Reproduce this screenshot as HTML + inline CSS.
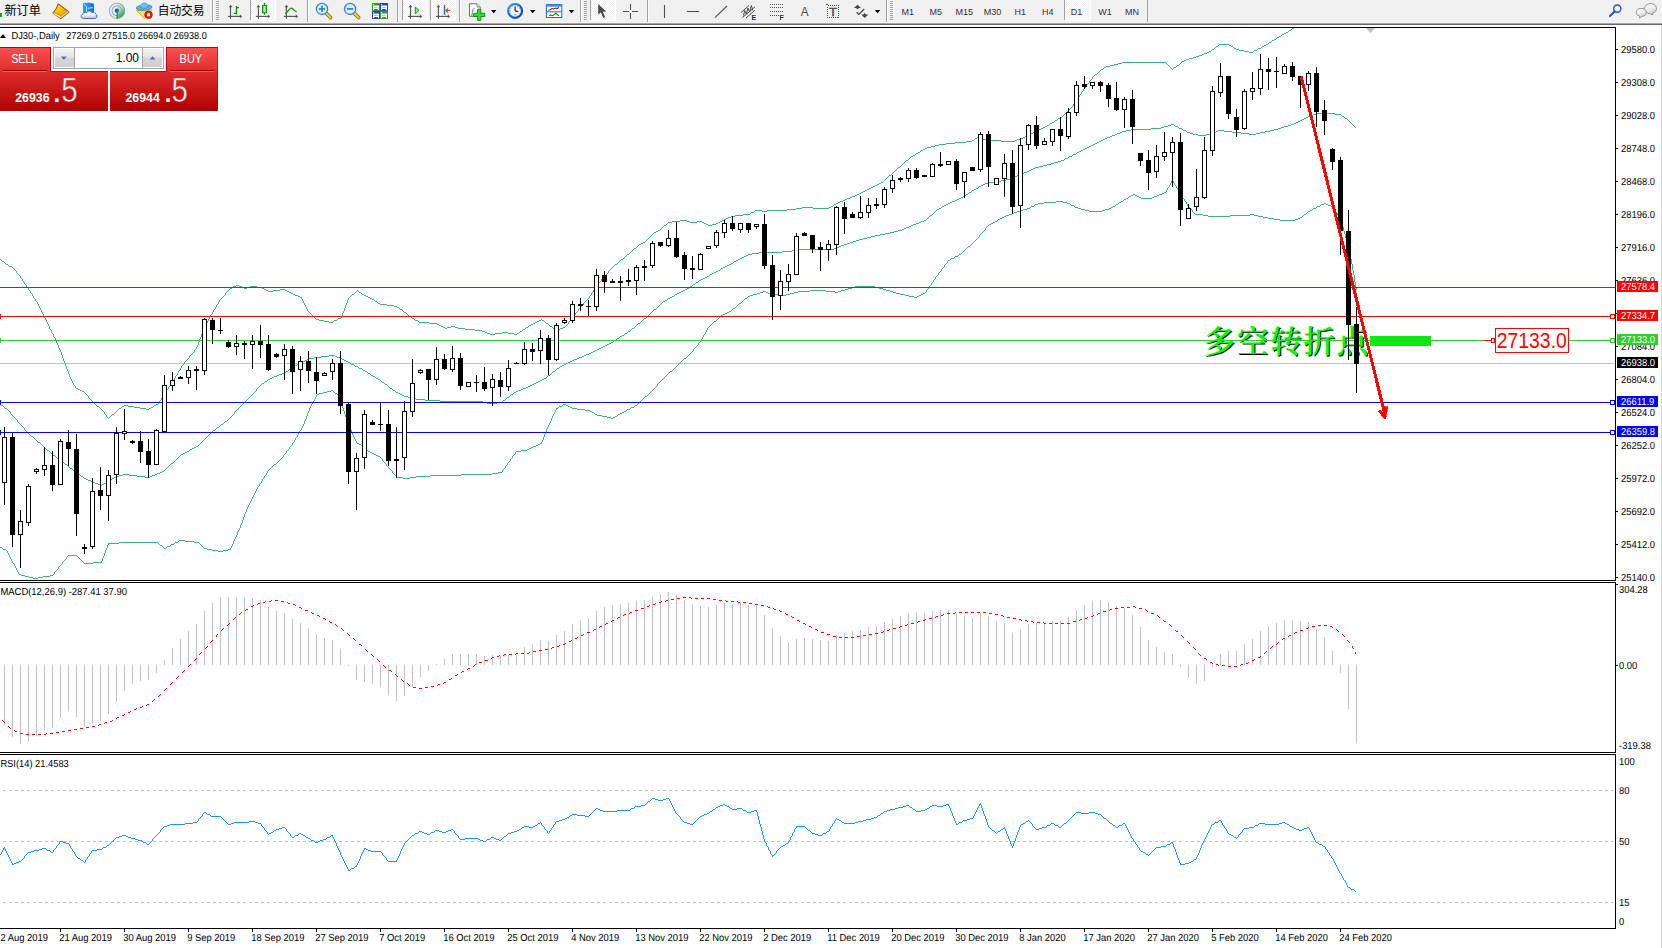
<!DOCTYPE html>
<html><head><meta charset="utf-8"><title>DJ30-,Daily</title>
<style>html,body{margin:0;padding:0;background:#fff;}body{width:1662px;height:948px;overflow:hidden;position:relative;}svg{position:absolute;left:0;top:0;display:block}text{font-family:"Liberation Sans", sans-serif;white-space:pre}.c text{font-size:10.2px;fill:#000;text-rendering:geometricPrecision}</style>
</head><body>
<svg width="1662" height="948" viewBox="0 0 1662 948">
<rect width="1662" height="948" fill="#fff"/>
<g class="c" shape-rendering="crispEdges">
<defs><clipPath id="cm"><rect x="0" y="28" width="1615" height="552"/></clipPath><clipPath id="cd"><rect x="0" y="583" width="1615" height="169"/></clipPath><clipPath id="cr"><rect x="0" y="755" width="1615" height="173"/></clipPath></defs>
<g clip-path="url(#cm)">
<rect x="0" y="363" width="1615" height="1" fill="#c0c0c0"/>
<rect x="1370" y="336" width="61" height="10" fill="#00f000" shape-rendering="crispEdges"/>
<g shape-rendering="auto"><text x="1204.5" y="354" style="font-family:'Liberation Serif','Noto Serif CJK SC',serif;font-size:32px;font-weight:600;fill:#000" textLength="165" lengthAdjust="spacing">多空转折点</text><text x="1203.5" y="353" style="font-family:'Liberation Serif','Noto Serif CJK SC',serif;font-size:32px;font-weight:600;fill:#00ff00" textLength="165" lengthAdjust="spacing">多空转折点</text></g>
<path d="M1292 28.5h2M1291 29.5h1M1289 30.5h2M1288 31.5h1M1286 32.5h2M1284 33.5h2M1282 34.5h2M1281 35.5h1M1279 36.5h2M1277 37.5h2M1276 38.5h1M1274 39.5h2M1272 40.5h2M1271 41.5h1M1269 42.5h2M1268 43.5h1M1219 44.5h10M1266 44.5h2M1218 45.5h1M1229 45.5h2M1264 45.5h2M1216 46.5h2M1231 46.5h2M1262 46.5h2M1215 47.5h1M1233 47.5h1M1261 47.5h1M1214 48.5h1M1234 48.5h2M1258 48.5h3M1212 49.5h2M1236 49.5h3M1257 49.5h1M1211 50.5h1M1239 50.5h5M1254 50.5h3M1209 51.5h2M1244 51.5h5M1253 51.5h1M1207 52.5h2M1249 52.5h4M1204 53.5h3M1202 54.5h2M1199 55.5h3M1196 56.5h3M1193 57.5h3M1189 58.5h4M1186 59.5h3M1184 60.5h2M1182 61.5h2M1122 62.5h44M1181 62.5h1M1118 63.5h4M1166 63.5h1M1180 63.5h1M1114 64.5h4M1167 64.5h1M1179 64.5h1M1110 65.5h4M1168 65.5h1M1177 65.5h2M1106 66.5h4M1169 66.5h1M1176 66.5h1M1104 67.5h2M1170 67.5h1M1174 67.5h2M1103 68.5h1M1171 68.5h1M1173 68.5h1M1101 69.5h2M1172 69.5h1M1100 70.5h1M1099 71.5h1M1098 72.5h1M1097 73.5h1M1095 74.5h2M1094 75.5h1M1093 76.5h1M1092 77.5h1M1092 78.5h1M1091 79.5h1M1090 80.5h1M1089 81.5h1M1089 82.5h1M1088 83.5h1M1087 84.5h1M1086 85.5h1M1086 86.5h1M1085 87.5h1M1084 88.5h1M1083 89.5h1M1083 90.5h1M1082 91.5h1M1081 92.5h1M1081 93.5h1M1080 94.5h1M1079 95.5h1M1079 96.5h1M1078 97.5h1M1077 98.5h1M1077 99.5h1M1076 100.5h1M1075 101.5h1M1075 102.5h1M1074 103.5h1M1073 104.5h1M1073 105.5h1M1072 106.5h1M1071 107.5h1M1070 108.5h1M1069 109.5h1M1068 110.5h1M1067 111.5h1M1066 112.5h1M1065 113.5h1M1064 114.5h1M1063 115.5h1M1062 116.5h1M1060 117.5h2M1058 118.5h2M1057 119.5h1M1055 120.5h2M1054 121.5h1M1052 122.5h2M1050 123.5h2M1049 124.5h1M1047 125.5h2M1045 126.5h2M1043 127.5h2M1041 128.5h2M1039 129.5h2M1037 130.5h2M1035 131.5h2M1033 132.5h2M1031 133.5h2M1029 134.5h2M1027 135.5h2M1025 136.5h2M977 137.5h2M1023 137.5h2M975 138.5h2M979 138.5h4M1020 138.5h3M974 139.5h1M983 139.5h4M1017 139.5h3M972 140.5h2M987 140.5h14M1015 140.5h2M966 141.5h6M1001 141.5h14M955 142.5h11M946 143.5h9M939 144.5h7M935 145.5h4M931 146.5h4M927 147.5h4M925 148.5h2M923 149.5h2M921 150.5h2M920 151.5h1M918 152.5h2M916 153.5h2M915 154.5h1M913 155.5h2M911 156.5h2M910 157.5h1M909 158.5h1M908 159.5h1M906 160.5h2M905 161.5h1M904 162.5h1M903 163.5h1M902 164.5h1M901 165.5h1M900 166.5h1M898 167.5h2M897 168.5h1M896 169.5h1M895 170.5h1M894 171.5h1M893 172.5h1M892 173.5h1M891 174.5h1M889 175.5h2M888 176.5h1M887 177.5h1M886 178.5h1M885 179.5h1M884 180.5h1M883 181.5h1M881 182.5h2M879 183.5h2M877 184.5h2M875 185.5h2M873 186.5h2M871 187.5h2M869 188.5h2M867 189.5h2M865 190.5h2M863 191.5h2M861 192.5h2M859 193.5h2M857 194.5h2M855 195.5h2M852 196.5h3M850 197.5h2M847 198.5h3M845 199.5h2M843 200.5h2M840 201.5h3M838 202.5h2M836 203.5h2M834 204.5h2M833 205.5h1M831 206.5h2M802 207.5h11M829 207.5h2M796 208.5h6M813 208.5h16M787 209.5h9M755 210.5h7M767 210.5h20M754 211.5h1M762 211.5h5M751 212.5h3M750 213.5h1M743 214.5h7M735 215.5h8M731 216.5h4M728 217.5h3M726 218.5h2M724 219.5h2M680 220.5h7M722 220.5h2M672 221.5h8M687 221.5h3M697 221.5h5M720 221.5h2M668 222.5h4M690 222.5h7M702 222.5h2M718 222.5h2M667 223.5h1M704 223.5h2M716 223.5h2M666 224.5h1M706 224.5h2M712 224.5h4M664 225.5h2M708 225.5h4M663 226.5h1M662 227.5h1M661 228.5h1M660 229.5h1M658 230.5h2M656 231.5h2M654 232.5h2M653 233.5h1M652 234.5h1M651 235.5h1M650 236.5h1M649 237.5h1M648 238.5h1M647 239.5h1M646 240.5h1M645 241.5h1M643 242.5h2M641 243.5h2M639 244.5h2M638 245.5h1M637 246.5h1M636 247.5h1M634 248.5h2M633 249.5h1M632 250.5h1M631 251.5h1M630 252.5h1M629 253.5h1M627 254.5h2M626 255.5h1M625 256.5h1M624 257.5h1M623 258.5h1M0 259.5h1M621 259.5h2M1 260.5h1M620 260.5h1M2 261.5h2M619 261.5h1M4 262.5h1M618 262.5h1M5 263.5h1M617 263.5h1M6 264.5h2M615 264.5h2M8 265.5h1M614 265.5h1M9 266.5h3M613 266.5h1M12 267.5h1M612 267.5h1M13 268.5h1M611 268.5h1M14 269.5h1M610 269.5h1M15 270.5h1M609 270.5h1M16 271.5h1M608 271.5h1M16 272.5h1M608 272.5h1M17 273.5h1M607 273.5h1M18 274.5h1M606 274.5h1M19 275.5h1M605 275.5h1M20 276.5h1M604 276.5h1M20 277.5h1M603 277.5h1M21 278.5h1M602 278.5h1M22 279.5h1M601 279.5h1M22 280.5h1M601 280.5h1M23 281.5h1M600 281.5h1M24 282.5h1M599 282.5h1M24 283.5h1M598 283.5h1M25 284.5h1M598 284.5h1M26 285.5h1M236 285.5h3M597 285.5h1M26 286.5h1M233 286.5h3M239 286.5h3M250 286.5h7M596 286.5h1M27 287.5h1M232 287.5h1M242 287.5h2M247 287.5h3M257 287.5h5M595 287.5h1M28 288.5h1M230 288.5h2M244 288.5h3M262 288.5h2M595 288.5h1M28 289.5h1M229 289.5h1M264 289.5h2M280 289.5h5M594 289.5h1M29 290.5h1M228 290.5h1M266 290.5h2M273 290.5h7M285 290.5h2M357 290.5h1M593 290.5h1M30 291.5h1M227 291.5h1M268 291.5h5M287 291.5h2M356 291.5h1M358 291.5h1M593 291.5h1M30 292.5h1M226 292.5h1M289 292.5h2M355 292.5h1M359 292.5h2M592 292.5h1M31 293.5h1M225 293.5h1M291 293.5h2M354 293.5h1M361 293.5h1M591 293.5h1M32 294.5h1M225 294.5h1M293 294.5h2M352 294.5h2M362 294.5h2M591 294.5h1M32 295.5h1M224 295.5h1M295 295.5h3M351 295.5h1M364 295.5h2M590 295.5h1M33 296.5h1M223 296.5h1M298 296.5h2M350 296.5h1M366 296.5h2M589 296.5h1M33 297.5h1M222 297.5h1M300 297.5h2M349 297.5h1M368 297.5h2M589 297.5h1M34 298.5h1M221 298.5h1M301 298.5h1M348 298.5h1M370 298.5h2M588 298.5h1M35 299.5h1M220 299.5h1M302 299.5h1M348 299.5h1M372 299.5h2M587 299.5h1M35 300.5h1M219 300.5h1M302 300.5h1M347 300.5h1M374 300.5h1M586 300.5h1M36 301.5h1M219 301.5h1M303 301.5h1M347 301.5h1M375 301.5h2M585 301.5h1M37 302.5h1M218 302.5h1M303 302.5h1M347 302.5h1M377 302.5h1M584 302.5h1M37 303.5h1M218 303.5h1M304 303.5h1M346 303.5h1M378 303.5h2M583 303.5h1M38 304.5h1M217 304.5h1M304 304.5h1M346 304.5h1M380 304.5h7M583 304.5h1M38 305.5h1M216 305.5h1M305 305.5h1M345 305.5h1M387 305.5h7M582 305.5h1M39 306.5h1M216 306.5h1M305 306.5h1M345 306.5h1M394 306.5h3M581 306.5h1M39 307.5h1M215 307.5h1M306 307.5h1M345 307.5h1M397 307.5h2M580 307.5h1M40 308.5h1M215 308.5h1M306 308.5h1M344 308.5h1M399 308.5h1M579 308.5h1M40 309.5h1M214 309.5h1M307 309.5h1M344 309.5h1M400 309.5h2M578 309.5h1M41 310.5h1M213 310.5h1M307 310.5h1M344 310.5h1M402 310.5h1M578 310.5h1M41 311.5h1M213 311.5h1M308 311.5h1M343 311.5h1M403 311.5h1M577 311.5h1M42 312.5h1M212 312.5h1M309 312.5h1M343 312.5h1M404 312.5h2M576 312.5h1M42 313.5h1M212 313.5h1M310 313.5h1M342 313.5h1M406 313.5h1M575 313.5h1M43 314.5h1M211 314.5h1M311 314.5h1M342 314.5h1M407 314.5h1M575 314.5h1M43 315.5h1M210 315.5h1M312 315.5h1M342 315.5h1M408 315.5h1M574 315.5h1M44 316.5h1M210 316.5h1M313 316.5h1M341 316.5h1M409 316.5h2M573 316.5h1M44 317.5h1M209 317.5h1M314 317.5h1M341 317.5h1M411 317.5h1M572 317.5h1M45 318.5h1M209 318.5h1M315 318.5h1M338 318.5h3M412 318.5h2M572 318.5h1M45 319.5h1M208 319.5h1M316 319.5h3M337 319.5h1M414 319.5h1M541 319.5h1M571 319.5h1M46 320.5h1M208 320.5h1M319 320.5h5M334 320.5h3M415 320.5h3M539 320.5h2M542 320.5h2M570 320.5h1M46 321.5h1M207 321.5h1M324 321.5h5M333 321.5h1M418 321.5h1M537 321.5h2M544 321.5h1M569 321.5h1M47 322.5h1M207 322.5h1M329 322.5h4M419 322.5h10M535 322.5h2M545 322.5h1M568 322.5h1M47 323.5h1M206 323.5h1M429 323.5h8M533 323.5h2M546 323.5h2M568 323.5h1M48 324.5h1M206 324.5h1M437 324.5h2M531 324.5h2M548 324.5h1M567 324.5h1M48 325.5h1M205 325.5h1M439 325.5h2M529 325.5h2M549 325.5h1M566 325.5h1M49 326.5h1M205 326.5h1M441 326.5h2M451 326.5h4M528 326.5h1M550 326.5h2M565 326.5h1M49 327.5h1M204 327.5h1M443 327.5h2M447 327.5h4M455 327.5h3M526 327.5h2M552 327.5h1M563 327.5h2M49 328.5h1M204 328.5h1M445 328.5h2M458 328.5h7M525 328.5h1M553 328.5h2M560 328.5h3M50 329.5h1M203 329.5h1M465 329.5h10M523 329.5h2M555 329.5h1M558 329.5h2M51 330.5h1M203 330.5h1M475 330.5h7M522 330.5h1M556 330.5h2M51 331.5h1M202 331.5h1M482 331.5h3M520 331.5h2M51 332.5h1M202 332.5h1M485 332.5h2M502 332.5h6M519 332.5h1M52 333.5h1M202 333.5h1M487 333.5h3M495 333.5h7M508 333.5h6M517 333.5h2M53 334.5h1M201 334.5h1M490 334.5h5M514 334.5h3M53 335.5h1M201 335.5h1M53 336.5h1M201 336.5h1M54 337.5h1M200 337.5h1M55 338.5h1M200 338.5h1M55 339.5h1M199 339.5h1M55 340.5h1M199 340.5h1M56 341.5h1M199 341.5h1M56 342.5h1M198 342.5h1M57 343.5h1M198 343.5h1M57 344.5h1M198 344.5h1M58 345.5h1M197 345.5h1M58 346.5h1M197 346.5h1M58 347.5h1M196 347.5h1M59 348.5h1M196 348.5h1M59 349.5h1M195 349.5h1M60 350.5h1M194 350.5h1M60 351.5h1M194 351.5h1M61 352.5h1M193 352.5h1M61 353.5h1M192 353.5h1M61 354.5h1M191 354.5h1M62 355.5h1M190 355.5h1M62 356.5h1M189 356.5h1M62 357.5h1M189 357.5h1M63 358.5h1M188 358.5h1M63 359.5h1M187 359.5h1M63 360.5h1M186 360.5h1M64 361.5h1M185 361.5h1M64 362.5h1M184 362.5h1M65 363.5h1M184 363.5h1M65 364.5h1M183 364.5h1M65 365.5h1M182 365.5h1M66 366.5h1M181 366.5h1M66 367.5h1M181 367.5h1M66 368.5h1M180 368.5h1M67 369.5h1M180 369.5h1M67 370.5h1M179 370.5h1M68 371.5h1M178 371.5h1M68 372.5h1M178 372.5h1M68 373.5h1M177 373.5h1M69 374.5h1M177 374.5h1M69 375.5h1M176 375.5h1M69 376.5h1M175 376.5h1M70 377.5h1M175 377.5h1M70 378.5h1M174 378.5h1M71 379.5h1M174 379.5h1M71 380.5h1M173 380.5h1M72 381.5h1M172 381.5h1M72 382.5h1M172 382.5h1M73 383.5h1M171 383.5h1M73 384.5h1M170 384.5h1M74 385.5h1M170 385.5h1M75 386.5h1M169 386.5h1M75 387.5h1M168 387.5h1M76 388.5h2M168 388.5h1M78 389.5h2M167 389.5h1M80 390.5h2M166 390.5h1M82 391.5h2M166 391.5h1M84 392.5h1M165 392.5h1M85 393.5h1M164 393.5h1M86 394.5h1M164 394.5h1M87 395.5h1M163 395.5h1M88 396.5h1M162 396.5h1M88 397.5h1M162 397.5h1M89 398.5h1M161 398.5h1M90 399.5h1M161 399.5h1M91 400.5h1M160 400.5h1M92 401.5h1M159 401.5h1M93 402.5h1M159 402.5h1M94 403.5h1M158 403.5h1M95 404.5h1M156 404.5h2M96 405.5h1M124 405.5h4M154 405.5h2M97 406.5h2M122 406.5h2M128 406.5h6M153 406.5h1M99 407.5h1M121 407.5h1M134 407.5h6M151 407.5h2M100 408.5h1M119 408.5h2M140 408.5h6M149 408.5h2M101 409.5h1M118 409.5h1M146 409.5h3M102 410.5h1M117 410.5h1M103 411.5h1M116 411.5h1M104 412.5h1M115 412.5h1M104 413.5h1M114 413.5h1M105 414.5h1M112 414.5h2M106 415.5h1M111 415.5h1M106 416.5h1M110 416.5h1M107 417.5h1M109 417.5h1M108 418.5h1" stroke="#3cb371" stroke-width="1" fill="none"/>
<path d="M1317 113.5h18M1313 114.5h4M1335 114.5h6M1310 115.5h3M1341 115.5h1M1308 116.5h2M1342 116.5h2M1306 117.5h2M1344 117.5h1M1304 118.5h2M1345 118.5h2M1302 119.5h2M1347 119.5h1M1300 120.5h2M1348 120.5h1M1298 121.5h2M1349 121.5h1M1296 122.5h2M1350 122.5h1M1294 123.5h2M1351 123.5h1M1171 124.5h3M1291 124.5h3M1352 124.5h1M1168 125.5h3M1174 125.5h1M1288 125.5h3M1353 125.5h1M1164 126.5h4M1175 126.5h3M1284 126.5h4M1354 126.5h1M1161 127.5h3M1178 127.5h1M1281 127.5h3M1355 127.5h1M1151 128.5h10M1179 128.5h3M1278 128.5h3M1131 129.5h20M1182 129.5h1M1274 129.5h4M1126 130.5h5M1183 130.5h3M1218 130.5h6M1270 130.5h4M1122 131.5h4M1186 131.5h1M1216 131.5h2M1224 131.5h8M1265 131.5h5M1120 132.5h2M1187 132.5h3M1214 132.5h2M1232 132.5h9M1260 132.5h5M1117 133.5h3M1190 133.5h3M1212 133.5h2M1241 133.5h8M1256 133.5h4M1115 134.5h2M1193 134.5h5M1206 134.5h6M1249 134.5h7M1112 135.5h3M1198 135.5h8M1110 136.5h2M1107 137.5h3M1105 138.5h2M1103 139.5h2M1101 140.5h2M1099 141.5h2M1097 142.5h2M1095 143.5h2M1093 144.5h2M1091 145.5h2M1089 146.5h2M1087 147.5h2M1085 148.5h2M1083 149.5h2M1081 150.5h2M1079 151.5h2M1077 152.5h2M1076 153.5h1M1073 154.5h3M1072 155.5h1M1069 156.5h3M1068 157.5h1M1065 158.5h3M1064 159.5h1M1061 160.5h3M1058 161.5h3M1054 162.5h4M1051 163.5h3M1047 164.5h4M1043 165.5h4M1039 166.5h4M1035 167.5h4M1033 168.5h2M1031 169.5h2M1029 170.5h2M1027 171.5h2M1024 172.5h3M1022 173.5h2M1020 174.5h2M1017 175.5h3M1015 176.5h2M1013 177.5h2M1011 178.5h2M1006 179.5h5M1001 180.5h5M994 181.5h7M989 182.5h5M985 183.5h4M983 184.5h2M981 185.5h2M979 186.5h2M978 187.5h1M976 188.5h2M974 189.5h2M972 190.5h2M971 191.5h1M969 192.5h2M968 193.5h1M966 194.5h2M964 195.5h2M963 196.5h1M961 197.5h2M959 198.5h2M957 199.5h2M955 200.5h2M952 201.5h3M950 202.5h2M948 203.5h2M946 204.5h2M944 205.5h2M942 206.5h2M941 207.5h1M939 208.5h2M937 209.5h2M936 210.5h1M935 211.5h1M934 212.5h1M933 213.5h1M932 214.5h1M930 215.5h2M929 216.5h1M928 217.5h1M927 218.5h1M926 219.5h1M924 220.5h2M921 221.5h3M919 222.5h2M916 223.5h3M913 224.5h3M911 225.5h2M909 226.5h2M906 227.5h3M904 228.5h2M902 229.5h2M898 230.5h4M894 231.5h4M890 232.5h4M885 233.5h5M880 234.5h5M875 235.5h5M871 236.5h4M867 237.5h4M863 238.5h4M859 239.5h4M856 240.5h3M853 241.5h3M850 242.5h3M847 243.5h3M844 244.5h3M841 245.5h3M839 246.5h2M836 247.5h3M834 248.5h2M799 249.5h35M792 250.5h7M782 251.5h10M759 252.5h23M752 253.5h7M748 254.5h4M746 255.5h2M744 256.5h2M742 257.5h2M740 258.5h2M738 259.5h2M736 260.5h2M734 261.5h2M733 262.5h1M731 263.5h2M729 264.5h2M727 265.5h2M725 266.5h2M723 267.5h2M721 268.5h2M720 269.5h1M718 270.5h2M716 271.5h2M714 272.5h2M712 273.5h2M710 274.5h2M709 275.5h1M707 276.5h2M705 277.5h2M703 278.5h2M701 279.5h2M699 280.5h2M698 281.5h1M696 282.5h2M695 283.5h1M693 284.5h2M692 285.5h1M690 286.5h2M689 287.5h1M687 288.5h2M685 289.5h2M683 290.5h2M681 291.5h2M679 292.5h2M677 293.5h2M675 294.5h2M674 295.5h1M672 296.5h2M670 297.5h2M668 298.5h2M667 299.5h1M665 300.5h2M663 301.5h2M662 302.5h1M661 303.5h1M660 304.5h1M659 305.5h1M658 306.5h1M657 307.5h1M656 308.5h1M654 309.5h2M653 310.5h1M652 311.5h1M651 312.5h1M650 313.5h1M649 314.5h1M648 315.5h1M647 316.5h1M646 317.5h1M644 318.5h2M643 319.5h1M642 320.5h1M641 321.5h1M640 322.5h1M638 323.5h2M637 324.5h1M636 325.5h1M635 326.5h1M634 327.5h1M632 328.5h2M631 329.5h1M630 330.5h1M628 331.5h2M627 332.5h1M625 333.5h2M624 334.5h1M622 335.5h2M620 336.5h2M619 337.5h1M617 338.5h2M616 339.5h1M614 340.5h2M613 341.5h1M611 342.5h2M609 343.5h2M607 344.5h2M605 345.5h2M603 346.5h2M601 347.5h2M599 348.5h2M597 349.5h2M595 350.5h2M593 351.5h2M591 352.5h2M589 353.5h2M586 354.5h3M329 355.5h6M584 355.5h2M321 356.5h8M335 356.5h2M582 356.5h2M314 357.5h7M337 357.5h3M579 357.5h3M309 358.5h5M340 358.5h2M577 358.5h2M307 359.5h2M342 359.5h2M574 359.5h3M305 360.5h2M344 360.5h2M572 360.5h2M303 361.5h2M346 361.5h2M570 361.5h2M301 362.5h2M348 362.5h2M568 362.5h2M299 363.5h2M350 363.5h1M566 363.5h2M297 364.5h2M351 364.5h3M564 364.5h2M295 365.5h2M354 365.5h1M562 365.5h2M294 366.5h1M355 366.5h3M560 366.5h2M292 367.5h2M358 367.5h1M559 367.5h1M291 368.5h1M359 368.5h3M557 368.5h2M289 369.5h2M362 369.5h1M556 369.5h1M288 370.5h1M363 370.5h2M555 370.5h1M286 371.5h2M365 371.5h2M553 371.5h2M284 372.5h2M367 372.5h1M552 372.5h1M282 373.5h2M368 373.5h2M551 373.5h1M279 374.5h3M370 374.5h1M550 374.5h1M277 375.5h2M371 375.5h2M548 375.5h2M274 376.5h3M373 376.5h2M547 376.5h1M272 377.5h2M375 377.5h1M546 377.5h1M270 378.5h2M376 378.5h2M544 378.5h2M268 379.5h2M378 379.5h2M542 379.5h2M267 380.5h1M380 380.5h1M540 380.5h2M265 381.5h2M381 381.5h1M538 381.5h2M264 382.5h1M382 382.5h2M536 382.5h2M262 383.5h2M384 383.5h1M534 383.5h2M261 384.5h1M385 384.5h2M532 384.5h2M260 385.5h1M387 385.5h1M530 385.5h2M259 386.5h1M388 386.5h1M528 386.5h2M258 387.5h1M389 387.5h1M526 387.5h2M257 388.5h1M390 388.5h2M523 388.5h3M256 389.5h1M392 389.5h1M521 389.5h2M256 390.5h1M393 390.5h2M518 390.5h3M255 391.5h1M395 391.5h1M516 391.5h2M254 392.5h1M396 392.5h2M514 392.5h2M253 393.5h1M398 393.5h2M513 393.5h1M252 394.5h1M400 394.5h2M511 394.5h2M251 395.5h1M402 395.5h2M510 395.5h1M250 396.5h1M404 396.5h4M509 396.5h1M249 397.5h1M408 397.5h4M507 397.5h2M248 398.5h1M412 398.5h4M506 398.5h1M247 399.5h1M416 399.5h9M505 399.5h1M246 400.5h1M425 400.5h15M503 400.5h2M245 401.5h1M440 401.5h43M502 401.5h1M244 402.5h1M483 402.5h4M497 402.5h5M243 403.5h1M487 403.5h10M0 404.5h1M242 404.5h1M1 405.5h2M241 405.5h1M3 406.5h1M240 406.5h1M4 407.5h1M239 407.5h1M5 408.5h2M238 408.5h1M7 409.5h1M237 409.5h1M8 410.5h1M236 410.5h1M9 411.5h1M235 411.5h1M10 412.5h1M234 412.5h1M10 413.5h1M234 413.5h1M11 414.5h1M233 414.5h1M12 415.5h1M232 415.5h1M13 416.5h1M231 416.5h1M14 417.5h1M230 417.5h1M15 418.5h1M229 418.5h1M16 419.5h1M228 419.5h1M17 420.5h1M227 420.5h1M17 421.5h1M225 421.5h2M18 422.5h1M224 422.5h1M19 423.5h1M223 423.5h1M20 424.5h1M221 424.5h2M21 425.5h1M220 425.5h1M22 426.5h1M219 426.5h1M23 427.5h1M217 427.5h2M24 428.5h1M216 428.5h1M24 429.5h1M215 429.5h1M25 430.5h1M213 430.5h2M26 431.5h1M212 431.5h1M27 432.5h1M211 432.5h1M28 433.5h1M210 433.5h1M29 434.5h1M209 434.5h1M30 435.5h1M208 435.5h1M31 436.5h2M207 436.5h1M33 437.5h1M206 437.5h1M34 438.5h1M205 438.5h1M35 439.5h1M204 439.5h1M36 440.5h1M203 440.5h1M37 441.5h1M202 441.5h1M38 442.5h2M201 442.5h1M40 443.5h1M200 443.5h1M41 444.5h1M199 444.5h1M42 445.5h1M198 445.5h1M43 446.5h1M196 446.5h2M44 447.5h1M194 447.5h2M45 448.5h1M192 448.5h2M46 449.5h1M190 449.5h2M47 450.5h2M189 450.5h1M49 451.5h1M187 451.5h2M50 452.5h1M185 452.5h2M51 453.5h1M183 453.5h2M52 454.5h1M181 454.5h2M53 455.5h2M180 455.5h1M55 456.5h1M179 456.5h1M56 457.5h1M178 457.5h1M57 458.5h2M177 458.5h1M59 459.5h1M176 459.5h1M60 460.5h1M175 460.5h1M61 461.5h2M174 461.5h1M63 462.5h1M173 462.5h1M64 463.5h1M171 463.5h2M65 464.5h2M170 464.5h1M67 465.5h1M169 465.5h1M68 466.5h1M168 466.5h1M69 467.5h1M167 467.5h1M70 468.5h2M166 468.5h1M72 469.5h1M165 469.5h1M73 470.5h2M164 470.5h1M75 471.5h1M162 471.5h2M76 472.5h1M160 472.5h2M77 473.5h1M157 473.5h3M78 474.5h2M123 474.5h6M155 474.5h2M80 475.5h1M119 475.5h4M129 475.5h8M152 475.5h3M81 476.5h2M116 476.5h3M137 476.5h8M150 476.5h2M83 477.5h1M114 477.5h2M145 477.5h5M84 478.5h2M112 478.5h2M86 479.5h2M111 479.5h1M88 480.5h3M109 480.5h2M91 481.5h2M107 481.5h2M93 482.5h2M106 482.5h1M95 483.5h3M104 483.5h2M98 484.5h2M102 484.5h2M100 485.5h2" stroke="#3cb371" stroke-width="1" fill="none"/>
<path d="M1172 180.5h1M1171 181.5h1M1173 181.5h1M1171 182.5h1M1173 182.5h1M1170 183.5h1M1174 183.5h1M1170 184.5h1M1174 184.5h1M1169 185.5h1M1175 185.5h1M1169 186.5h1M1176 186.5h1M1168 187.5h1M1176 187.5h1M1167 188.5h1M1177 188.5h1M1167 189.5h1M1178 189.5h1M1166 190.5h1M1178 190.5h1M1166 191.5h1M1179 191.5h1M1164 192.5h2M1179 192.5h1M1162 193.5h2M1180 193.5h1M1133 194.5h2M1159 194.5h3M1181 194.5h1M1131 195.5h2M1135 195.5h2M1157 195.5h2M1181 195.5h1M1129 196.5h2M1137 196.5h2M1154 196.5h3M1182 196.5h1M1128 197.5h1M1139 197.5h2M1152 197.5h2M1182 197.5h1M1126 198.5h2M1141 198.5h11M1183 198.5h1M1124 199.5h2M1184 199.5h1M1123 200.5h1M1184 200.5h1M1056 201.5h7M1121 201.5h2M1185 201.5h1M1044 202.5h12M1063 202.5h4M1119 202.5h2M1186 202.5h1M1038 203.5h6M1067 203.5h3M1118 203.5h1M1186 203.5h1M1324 203.5h2M1035 204.5h3M1070 204.5h1M1116 204.5h2M1187 204.5h1M1321 204.5h3M1326 204.5h2M1034 205.5h1M1071 205.5h3M1115 205.5h1M1187 205.5h1M1320 205.5h1M1328 205.5h3M1031 206.5h3M1074 206.5h1M1113 206.5h2M1188 206.5h1M1317 206.5h3M1331 206.5h2M1030 207.5h1M1075 207.5h3M1111 207.5h2M1189 207.5h1M1316 207.5h1M1333 207.5h1M1027 208.5h3M1078 208.5h3M1109 208.5h2M1190 208.5h1M1313 208.5h3M1333 208.5h1M1023 209.5h4M1081 209.5h4M1105 209.5h4M1191 209.5h1M1312 209.5h1M1334 209.5h1M1020 210.5h3M1085 210.5h4M1102 210.5h3M1192 210.5h1M1310 210.5h2M1335 210.5h1M1017 211.5h3M1089 211.5h13M1192 211.5h1M1308 211.5h2M1335 211.5h1M1014 212.5h3M1193 212.5h1M1307 212.5h1M1336 212.5h1M1012 213.5h2M1194 213.5h1M1306 213.5h1M1337 213.5h1M1009 214.5h3M1195 214.5h8M1250 214.5h4M1304 214.5h2M1337 214.5h1M1006 215.5h3M1203 215.5h5M1230 215.5h20M1254 215.5h4M1303 215.5h1M1338 215.5h1M1004 216.5h2M1208 216.5h22M1258 216.5h5M1302 216.5h1M1339 216.5h1M1002 217.5h2M1263 217.5h5M1300 217.5h2M1339 217.5h1M1000 218.5h2M1268 218.5h6M1298 218.5h2M1340 218.5h1M998 219.5h2M1274 219.5h6M1295 219.5h3M1340 219.5h1M997 220.5h1M1280 220.5h15M1341 220.5h1M995 221.5h2M1341 221.5h1M993 222.5h2M1341 222.5h1M991 223.5h2M1341 223.5h1M989 224.5h2M1342 224.5h1M988 225.5h1M1342 225.5h1M987 226.5h1M1342 226.5h1M986 227.5h1M1343 227.5h1M985 228.5h1M1343 228.5h1M985 229.5h1M1343 229.5h1M984 230.5h1M1343 230.5h1M983 231.5h1M1344 231.5h1M982 232.5h1M1344 232.5h1M981 233.5h1M1344 233.5h1M980 234.5h1M1345 234.5h1M979 235.5h1M1345 235.5h1M979 236.5h1M1345 236.5h1M978 237.5h1M1345 237.5h1M977 238.5h1M1346 238.5h1M976 239.5h1M1346 239.5h1M975 240.5h1M1346 240.5h1M974 241.5h1M1347 241.5h1M973 242.5h1M1347 242.5h1M972 243.5h1M1347 243.5h1M971 244.5h1M1347 244.5h1M970 245.5h1M1348 245.5h1M968 246.5h2M1348 246.5h1M967 247.5h1M1348 247.5h1M966 248.5h1M1348 248.5h1M965 249.5h1M1349 249.5h1M964 250.5h1M1349 250.5h1M963 251.5h1M1349 251.5h1M962 252.5h1M1349 252.5h1M961 253.5h1M1349 253.5h1M959 254.5h2M1350 254.5h1M958 255.5h1M1350 255.5h1M955 256.5h3M1350 256.5h1M954 257.5h1M1350 257.5h1M951 258.5h3M1350 258.5h1M950 259.5h1M1351 259.5h1M948 260.5h2M1351 260.5h1M947 261.5h1M1351 261.5h1M947 262.5h1M1351 262.5h1M946 263.5h1M1351 263.5h1M945 264.5h1M1352 264.5h1M944 265.5h1M1352 265.5h1M944 266.5h1M1352 266.5h1M943 267.5h1M1352 267.5h1M942 268.5h1M1352 268.5h1M941 269.5h1M1352 269.5h1M941 270.5h1M1353 270.5h1M940 271.5h1M1353 271.5h1M939 272.5h1M1353 272.5h1M938 273.5h1M1353 273.5h1M938 274.5h1M1353 274.5h1M937 275.5h1M1354 275.5h1M936 276.5h1M1354 276.5h1M935 277.5h1M1354 277.5h1M935 278.5h1M1354 278.5h1M934 279.5h1M1354 279.5h1M933 280.5h1M1354 280.5h1M933 281.5h1M1354 281.5h1M932 282.5h1M1355 282.5h1M931 283.5h1M1355 283.5h1M931 284.5h1M1355 284.5h1M930 285.5h1M1355 285.5h1M855 286.5h20M929 286.5h1M1355 286.5h1M852 287.5h3M875 287.5h4M928 287.5h1M1356 287.5h1M848 288.5h4M879 288.5h4M928 288.5h1M1356 288.5h1M845 289.5h3M883 289.5h3M927 289.5h1M1356 289.5h1M810 290.5h16M841 290.5h4M886 290.5h4M926 290.5h1M763 291.5h3M798 291.5h12M826 291.5h9M838 291.5h3M890 291.5h3M926 291.5h1M760 292.5h3M766 292.5h2M794 292.5h4M835 292.5h3M893 292.5h3M925 292.5h1M757 293.5h3M768 293.5h2M790 293.5h4M896 293.5h4M923 293.5h2M753 294.5h4M770 294.5h8M786 294.5h4M900 294.5h5M921 294.5h2M750 295.5h3M778 295.5h8M905 295.5h4M919 295.5h2M748 296.5h2M909 296.5h5M917 296.5h2M747 297.5h1M914 297.5h3M745 298.5h2M744 299.5h1M743 300.5h1M742 301.5h1M741 302.5h1M739 303.5h2M738 304.5h1M737 305.5h1M736 306.5h1M735 307.5h1M733 308.5h2M732 309.5h1M731 310.5h1M729 311.5h2M727 312.5h2M725 313.5h2M723 314.5h2M721 315.5h2M720 316.5h1M719 317.5h1M718 318.5h1M717 319.5h1M716 320.5h1M714 321.5h2M713 322.5h1M712 323.5h1M711 324.5h1M710 325.5h1M709 326.5h1M708 327.5h1M707 328.5h1M707 329.5h1M706 330.5h1M706 331.5h1M705 332.5h1M705 333.5h1M704 334.5h1M703 335.5h1M703 336.5h1M702 337.5h1M702 338.5h1M701 339.5h1M701 340.5h1M700 341.5h1M699 342.5h1M698 343.5h1M698 344.5h1M697 345.5h1M696 346.5h1M695 347.5h1M694 348.5h1M693 349.5h1M693 350.5h1M692 351.5h1M691 352.5h1M690 353.5h1M689 354.5h1M688 355.5h1M687 356.5h1M686 357.5h1M684 358.5h2M683 359.5h1M682 360.5h1M681 361.5h1M680 362.5h1M679 363.5h1M678 364.5h1M677 365.5h1M676 366.5h1M675 367.5h1M674 368.5h1M673 369.5h1M672 370.5h1M670 371.5h2M669 372.5h1M668 373.5h1M667 374.5h1M666 375.5h1M665 376.5h1M664 377.5h1M663 378.5h1M662 379.5h1M661 380.5h1M660 381.5h1M659 382.5h1M658 383.5h1M657 384.5h1M657 385.5h1M656 386.5h1M655 387.5h1M654 388.5h1M653 389.5h1M331 390.5h2M652 390.5h1M327 391.5h4M333 391.5h1M651 391.5h1M323 392.5h4M334 392.5h1M650 392.5h1M319 393.5h4M335 393.5h2M649 393.5h1M317 394.5h2M337 394.5h1M648 394.5h1M316 395.5h1M338 395.5h1M647 395.5h1M316 396.5h1M339 396.5h1M645 396.5h2M315 397.5h1M339 397.5h1M644 397.5h1M315 398.5h1M340 398.5h1M643 398.5h1M314 399.5h1M340 399.5h1M642 399.5h1M314 400.5h1M340 400.5h1M641 400.5h1M313 401.5h1M341 401.5h1M640 401.5h1M312 402.5h1M341 402.5h1M639 402.5h1M312 403.5h1M341 403.5h1M638 403.5h1M311 404.5h1M342 404.5h1M563 404.5h3M637 404.5h1M311 405.5h1M342 405.5h1M562 405.5h1M566 405.5h2M635 405.5h2M310 406.5h1M342 406.5h1M559 406.5h3M568 406.5h2M634 406.5h1M310 407.5h1M342 407.5h1M558 407.5h1M570 407.5h2M631 407.5h3M309 408.5h1M343 408.5h1M556 408.5h2M572 408.5h5M630 408.5h1M309 409.5h1M343 409.5h1M556 409.5h1M577 409.5h8M627 409.5h3M309 410.5h1M343 410.5h1M555 410.5h1M585 410.5h5M626 410.5h1M308 411.5h1M344 411.5h1M555 411.5h1M590 411.5h2M624 411.5h2M308 412.5h1M344 412.5h1M554 412.5h1M592 412.5h2M622 412.5h2M307 413.5h1M344 413.5h1M554 413.5h1M594 413.5h1M620 413.5h2M307 414.5h1M345 414.5h1M553 414.5h1M595 414.5h2M618 414.5h2M307 415.5h1M345 415.5h1M553 415.5h1M597 415.5h5M617 415.5h1M306 416.5h1M345 416.5h1M552 416.5h1M602 416.5h5M615 416.5h2M306 417.5h1M346 417.5h1M552 417.5h1M607 417.5h4M613 417.5h2M306 418.5h1M346 418.5h1M551 418.5h1M611 418.5h2M305 419.5h1M346 419.5h1M551 419.5h1M305 420.5h1M347 420.5h1M551 420.5h1M304 421.5h1M347 421.5h1M550 421.5h1M304 422.5h1M348 422.5h1M550 422.5h1M304 423.5h1M348 423.5h1M549 423.5h1M303 424.5h1M348 424.5h1M549 424.5h1M303 425.5h1M349 425.5h1M548 425.5h1M302 426.5h1M349 426.5h1M548 426.5h1M302 427.5h1M349 427.5h1M547 427.5h1M301 428.5h1M350 428.5h1M547 428.5h1M301 429.5h1M350 429.5h1M546 429.5h1M300 430.5h1M351 430.5h1M546 430.5h1M299 431.5h1M351 431.5h1M546 431.5h1M299 432.5h1M351 432.5h1M545 432.5h1M298 433.5h1M352 433.5h1M545 433.5h1M298 434.5h1M352 434.5h1M544 434.5h1M297 435.5h1M353 435.5h1M544 435.5h1M297 436.5h1M353 436.5h1M544 436.5h1M296 437.5h1M354 437.5h1M543 437.5h1M295 438.5h1M354 438.5h1M543 438.5h1M295 439.5h1M355 439.5h1M543 439.5h1M294 440.5h1M355 440.5h1M542 440.5h1M294 441.5h1M356 441.5h1M542 441.5h1M293 442.5h1M356 442.5h1M541 442.5h1M292 443.5h1M357 443.5h2M540 443.5h2M292 444.5h1M359 444.5h2M538 444.5h2M291 445.5h1M361 445.5h2M536 445.5h2M290 446.5h1M363 446.5h1M533 446.5h3M289 447.5h1M364 447.5h1M531 447.5h2M289 448.5h1M365 448.5h1M529 448.5h2M288 449.5h1M366 449.5h1M527 449.5h2M287 450.5h1M367 450.5h1M521 450.5h6M286 451.5h1M368 451.5h2M516 451.5h5M286 452.5h1M370 452.5h2M515 452.5h1M285 453.5h1M372 453.5h2M515 453.5h1M284 454.5h1M374 454.5h2M514 454.5h1M283 455.5h1M376 455.5h2M513 455.5h1M283 456.5h1M378 456.5h2M512 456.5h1M282 457.5h1M380 457.5h1M512 457.5h1M281 458.5h1M381 458.5h1M511 458.5h1M280 459.5h1M382 459.5h1M510 459.5h1M279 460.5h1M382 460.5h1M510 460.5h1M278 461.5h1M383 461.5h1M509 461.5h1M277 462.5h1M384 462.5h1M508 462.5h1M276 463.5h1M385 463.5h1M507 463.5h1M274 464.5h2M386 464.5h1M507 464.5h1M273 465.5h1M386 465.5h1M506 465.5h1M272 466.5h1M387 466.5h1M505 466.5h1M271 467.5h1M388 467.5h1M505 467.5h1M270 468.5h1M389 468.5h1M504 468.5h1M269 469.5h1M390 469.5h1M503 469.5h1M268 470.5h1M391 470.5h1M502 470.5h1M267 471.5h1M392 471.5h1M502 471.5h1M267 472.5h1M392 472.5h1M498 472.5h4M266 473.5h1M393 473.5h1M492 473.5h6M266 474.5h1M394 474.5h1M461 474.5h31M265 475.5h1M395 475.5h1M430 475.5h31M264 476.5h1M396 476.5h1M416 476.5h14M264 477.5h1M397 477.5h6M410 477.5h6M263 478.5h1M403 478.5h7M262 479.5h1M262 480.5h1M261 481.5h1M261 482.5h1M260 483.5h1M259 484.5h1M259 485.5h1M258 486.5h1M257 487.5h1M257 488.5h1M256 489.5h1M256 490.5h1M255 491.5h1M255 492.5h1M254 493.5h1M254 494.5h1M253 495.5h1M253 496.5h1M252 497.5h1M252 498.5h1M251 499.5h1M251 500.5h1M250 501.5h1M250 502.5h1M249 503.5h1M249 504.5h1M248 505.5h1M248 506.5h1M247 507.5h1M247 508.5h1M246 509.5h1M246 510.5h1M246 511.5h1M245 512.5h1M245 513.5h1M244 514.5h1M244 515.5h1M244 516.5h1M243 517.5h1M243 518.5h1M243 519.5h1M242 520.5h1M242 521.5h1M242 522.5h1M241 523.5h1M241 524.5h1M240 525.5h1M240 526.5h1M240 527.5h1M239 528.5h1M239 529.5h1M238 530.5h1M238 531.5h1M237 532.5h1M237 533.5h1M237 534.5h1M236 535.5h1M236 536.5h1M235 537.5h1M235 538.5h1M234 539.5h1M179 540.5h6M234 540.5h1M178 541.5h1M185 541.5h9M233 541.5h1M119 542.5h39M175 542.5h3M194 542.5h5M233 542.5h1M108 543.5h11M158 543.5h1M174 543.5h1M199 543.5h1M233 543.5h1M108 544.5h1M159 544.5h1M171 544.5h3M200 544.5h1M232 544.5h1M107 545.5h1M160 545.5h2M170 545.5h1M201 545.5h1M232 545.5h1M107 546.5h1M162 546.5h1M167 546.5h3M202 546.5h1M231 546.5h1M0 547.5h2M107 547.5h1M163 547.5h1M166 547.5h1M203 547.5h1M231 547.5h1M2 548.5h1M106 548.5h1M164 548.5h2M204 548.5h3M230 548.5h1M3 549.5h3M106 549.5h1M207 549.5h5M228 549.5h3M6 550.5h1M105 550.5h1M212 550.5h6M223 550.5h5M7 551.5h1M105 551.5h1M218 551.5h5M7 552.5h1M105 552.5h1M8 553.5h1M104 553.5h1M8 554.5h1M104 554.5h1M9 555.5h1M68 555.5h9M104 555.5h1M9 556.5h1M67 556.5h1M77 556.5h1M103 556.5h1M10 557.5h1M66 557.5h1M78 557.5h1M103 557.5h1M10 558.5h1M66 558.5h1M79 558.5h1M102 558.5h1M11 559.5h1M65 559.5h1M80 559.5h1M102 559.5h1M11 560.5h1M64 560.5h1M81 560.5h1M102 560.5h1M12 561.5h1M63 561.5h1M82 561.5h1M101 561.5h1M12 562.5h1M62 562.5h1M83 562.5h1M93 562.5h9M13 563.5h1M62 563.5h1M84 563.5h9M14 564.5h1M61 564.5h1M14 565.5h1M60 565.5h1M15 566.5h1M59 566.5h1M15 567.5h1M58 567.5h1M16 568.5h1M58 568.5h1M16 569.5h1M57 569.5h1M17 570.5h1M56 570.5h1M17 571.5h1M55 571.5h1M18 572.5h1M54 572.5h1M18 573.5h1M54 573.5h1M19 574.5h2M53 574.5h1M21 575.5h4M50 575.5h3M25 576.5h4M43 576.5h7M29 577.5h4M38 577.5h5M33 578.5h5" stroke="#3cb371" stroke-width="1" fill="none"/>
<rect x="0" y="287" width="1615" height="1" fill="#ff0000"/>
<rect x="0" y="316" width="1615" height="1" fill="#ff0000"/>
<rect x="0" y="340" width="1615" height="1" fill="#32cd32"/>
<rect x="0" y="402" width="1615" height="1" fill="#0000ff"/>
<rect x="0" y="432" width="1615" height="1" fill="#0000ff"/>
<rect x="4" y="427" width="1" height="78" fill="#000"/>
<rect x="2" y="437" width="5" height="46" fill="#000"/>
<rect x="3" y="438" width="3" height="44" fill="#fff"/>
<rect x="12" y="433" width="1" height="114" fill="#000"/>
<rect x="10" y="437" width="5" height="98" fill="#000"/>
<rect x="20" y="510" width="1" height="58" fill="#000"/>
<rect x="18" y="521" width="5" height="14" fill="#000"/>
<rect x="19" y="522" width="3" height="12" fill="#fff"/>
<rect x="28" y="484" width="1" height="42" fill="#000"/>
<rect x="26" y="486" width="5" height="37" fill="#000"/>
<rect x="27" y="487" width="3" height="35" fill="#fff"/>
<rect x="36" y="468" width="1" height="6" fill="#000"/>
<rect x="34" y="469" width="5" height="3" fill="#000"/>
<rect x="35" y="470" width="3" height="1" fill="#fff"/>
<rect x="44" y="447" width="1" height="29" fill="#000"/>
<rect x="42" y="465" width="5" height="5" fill="#000"/>
<rect x="43" y="466" width="3" height="3" fill="#fff"/>
<rect x="52" y="451" width="1" height="40" fill="#000"/>
<rect x="50" y="465" width="5" height="20" fill="#000"/>
<rect x="60" y="439" width="1" height="45" fill="#000"/>
<rect x="58" y="441" width="5" height="44" fill="#000"/>
<rect x="59" y="442" width="3" height="42" fill="#fff"/>
<rect x="68" y="430" width="1" height="36" fill="#000"/>
<rect x="66" y="442" width="5" height="7" fill="#000"/>
<rect x="76" y="434" width="1" height="102" fill="#000"/>
<rect x="74" y="449" width="5" height="65" fill="#000"/>
<rect x="84" y="544" width="1" height="10" fill="#000"/>
<rect x="82" y="547" width="5" height="2" fill="#000"/>
<rect x="92" y="478" width="1" height="71" fill="#000"/>
<rect x="90" y="491" width="5" height="56" fill="#000"/>
<rect x="91" y="492" width="3" height="54" fill="#fff"/>
<rect x="100" y="467" width="1" height="43" fill="#000"/>
<rect x="98" y="490" width="5" height="6" fill="#000"/>
<rect x="108" y="470" width="1" height="51" fill="#000"/>
<rect x="106" y="475" width="5" height="21" fill="#000"/>
<rect x="107" y="476" width="3" height="19" fill="#fff"/>
<rect x="116" y="427" width="1" height="57" fill="#000"/>
<rect x="114" y="433" width="5" height="42" fill="#000"/>
<rect x="115" y="434" width="3" height="40" fill="#fff"/>
<rect x="124" y="409" width="1" height="31" fill="#000"/>
<rect x="122" y="431" width="5" height="3" fill="#000"/>
<rect x="123" y="432" width="3" height="1" fill="#fff"/>
<rect x="132" y="440" width="1" height="4" fill="#000"/>
<rect x="130" y="441" width="5" height="2" fill="#000"/>
<rect x="140" y="431" width="1" height="32" fill="#000"/>
<rect x="138" y="441" width="5" height="11" fill="#000"/>
<rect x="148" y="439" width="1" height="39" fill="#000"/>
<rect x="146" y="451" width="5" height="14" fill="#000"/>
<rect x="156" y="429" width="1" height="36" fill="#000"/>
<rect x="154" y="430" width="5" height="35" fill="#000"/>
<rect x="155" y="431" width="3" height="33" fill="#fff"/>
<rect x="164" y="375" width="1" height="57" fill="#000"/>
<rect x="162" y="385" width="5" height="47" fill="#000"/>
<rect x="163" y="386" width="3" height="45" fill="#fff"/>
<rect x="172" y="372" width="1" height="19" fill="#000"/>
<rect x="170" y="380" width="5" height="6" fill="#000"/>
<rect x="171" y="381" width="3" height="4" fill="#fff"/>
<rect x="180" y="376" width="1" height="2" fill="#000"/>
<rect x="178" y="377" width="5" height="2" fill="#000"/>
<rect x="188" y="366" width="1" height="18" fill="#000"/>
<rect x="186" y="370" width="5" height="8" fill="#000"/>
<rect x="187" y="371" width="3" height="6" fill="#fff"/>
<rect x="196" y="366" width="1" height="24" fill="#000"/>
<rect x="194" y="369" width="5" height="2" fill="#000"/>
<rect x="204" y="318" width="1" height="57" fill="#000"/>
<rect x="202" y="319" width="5" height="52" fill="#000"/>
<rect x="203" y="320" width="3" height="50" fill="#fff"/>
<rect x="212" y="318" width="1" height="26" fill="#000"/>
<rect x="210" y="320" width="5" height="10" fill="#000"/>
<rect x="220" y="318" width="1" height="16" fill="#000"/>
<rect x="218" y="330" width="5" height="1" fill="#000"/>
<rect x="228" y="340" width="1" height="8" fill="#000"/>
<rect x="226" y="342" width="5" height="5" fill="#000"/>
<rect x="236" y="335" width="1" height="20" fill="#000"/>
<rect x="234" y="343" width="5" height="4" fill="#000"/>
<rect x="235" y="344" width="3" height="2" fill="#fff"/>
<rect x="244" y="341" width="1" height="18" fill="#000"/>
<rect x="242" y="343" width="5" height="2" fill="#000"/>
<rect x="252" y="335" width="1" height="34" fill="#000"/>
<rect x="250" y="341" width="5" height="4" fill="#000"/>
<rect x="251" y="342" width="3" height="2" fill="#fff"/>
<rect x="260" y="325" width="1" height="33" fill="#000"/>
<rect x="258" y="341" width="5" height="4" fill="#000"/>
<rect x="268" y="335" width="1" height="36" fill="#000"/>
<rect x="266" y="344" width="5" height="26" fill="#000"/>
<rect x="276" y="353" width="1" height="5" fill="#000"/>
<rect x="274" y="354" width="5" height="3" fill="#000"/>
<rect x="284" y="344" width="1" height="36" fill="#000"/>
<rect x="282" y="349" width="5" height="7" fill="#000"/>
<rect x="283" y="350" width="3" height="5" fill="#fff"/>
<rect x="292" y="346" width="1" height="48" fill="#000"/>
<rect x="290" y="349" width="5" height="23" fill="#000"/>
<rect x="300" y="356" width="1" height="35" fill="#000"/>
<rect x="298" y="361" width="5" height="9" fill="#000"/>
<rect x="299" y="362" width="3" height="7" fill="#fff"/>
<rect x="308" y="351" width="1" height="32" fill="#000"/>
<rect x="306" y="361" width="5" height="10" fill="#000"/>
<rect x="316" y="357" width="1" height="37" fill="#000"/>
<rect x="314" y="372" width="5" height="9" fill="#000"/>
<rect x="324" y="372" width="1" height="4" fill="#000"/>
<rect x="322" y="373" width="5" height="3" fill="#000"/>
<rect x="323" y="374" width="3" height="1" fill="#fff"/>
<rect x="332" y="359" width="1" height="21" fill="#000"/>
<rect x="330" y="363" width="5" height="9" fill="#000"/>
<rect x="331" y="364" width="3" height="7" fill="#fff"/>
<rect x="340" y="351" width="1" height="63" fill="#000"/>
<rect x="338" y="363" width="5" height="43" fill="#000"/>
<rect x="348" y="402" width="1" height="82" fill="#000"/>
<rect x="346" y="404" width="5" height="68" fill="#000"/>
<rect x="356" y="453" width="1" height="57" fill="#000"/>
<rect x="354" y="458" width="5" height="14" fill="#000"/>
<rect x="355" y="459" width="3" height="12" fill="#fff"/>
<rect x="364" y="410" width="1" height="59" fill="#000"/>
<rect x="362" y="414" width="5" height="44" fill="#000"/>
<rect x="363" y="415" width="3" height="42" fill="#fff"/>
<rect x="372" y="420" width="1" height="5" fill="#000"/>
<rect x="370" y="422" width="5" height="3" fill="#000"/>
<rect x="380" y="402" width="1" height="29" fill="#000"/>
<rect x="378" y="424" width="5" height="1" fill="#000"/>
<rect x="388" y="410" width="1" height="56" fill="#000"/>
<rect x="386" y="424" width="5" height="37" fill="#000"/>
<rect x="396" y="427" width="1" height="51" fill="#000"/>
<rect x="394" y="459" width="5" height="2" fill="#000"/>
<rect x="404" y="401" width="1" height="69" fill="#000"/>
<rect x="402" y="411" width="5" height="47" fill="#000"/>
<rect x="403" y="412" width="3" height="45" fill="#fff"/>
<rect x="412" y="359" width="1" height="58" fill="#000"/>
<rect x="410" y="383" width="5" height="29" fill="#000"/>
<rect x="411" y="384" width="3" height="27" fill="#fff"/>
<rect x="420" y="369" width="1" height="5" fill="#000"/>
<rect x="418" y="370" width="5" height="3" fill="#000"/>
<rect x="419" y="371" width="3" height="1" fill="#fff"/>
<rect x="428" y="369" width="1" height="31" fill="#000"/>
<rect x="426" y="369" width="5" height="11" fill="#000"/>
<rect x="436" y="347" width="1" height="38" fill="#000"/>
<rect x="434" y="359" width="5" height="21" fill="#000"/>
<rect x="435" y="360" width="3" height="19" fill="#fff"/>
<rect x="444" y="354" width="1" height="16" fill="#000"/>
<rect x="442" y="359" width="5" height="10" fill="#000"/>
<rect x="452" y="346" width="1" height="26" fill="#000"/>
<rect x="450" y="358" width="5" height="12" fill="#000"/>
<rect x="451" y="359" width="3" height="10" fill="#fff"/>
<rect x="460" y="353" width="1" height="37" fill="#000"/>
<rect x="458" y="358" width="5" height="28" fill="#000"/>
<rect x="468" y="382" width="1" height="5" fill="#000"/>
<rect x="466" y="382" width="5" height="5" fill="#000"/>
<rect x="467" y="383" width="3" height="3" fill="#fff"/>
<rect x="476" y="375" width="1" height="17" fill="#000"/>
<rect x="474" y="382" width="5" height="1" fill="#000"/>
<rect x="484" y="367" width="1" height="24" fill="#000"/>
<rect x="482" y="382" width="5" height="7" fill="#000"/>
<rect x="492" y="374" width="1" height="32" fill="#000"/>
<rect x="490" y="379" width="5" height="9" fill="#000"/>
<rect x="491" y="380" width="3" height="7" fill="#fff"/>
<rect x="500" y="372" width="1" height="25" fill="#000"/>
<rect x="498" y="380" width="5" height="7" fill="#000"/>
<rect x="508" y="360" width="1" height="31" fill="#000"/>
<rect x="506" y="368" width="5" height="19" fill="#000"/>
<rect x="507" y="369" width="3" height="17" fill="#fff"/>
<rect x="516" y="362" width="1" height="2" fill="#000"/>
<rect x="514" y="363" width="5" height="1" fill="#000"/>
<rect x="524" y="342" width="1" height="23" fill="#000"/>
<rect x="522" y="349" width="5" height="15" fill="#000"/>
<rect x="523" y="350" width="3" height="13" fill="#fff"/>
<rect x="532" y="343" width="1" height="18" fill="#000"/>
<rect x="530" y="349" width="5" height="3" fill="#000"/>
<rect x="540" y="330" width="1" height="34" fill="#000"/>
<rect x="538" y="338" width="5" height="13" fill="#000"/>
<rect x="539" y="339" width="3" height="11" fill="#fff"/>
<rect x="548" y="335" width="1" height="40" fill="#000"/>
<rect x="546" y="338" width="5" height="22" fill="#000"/>
<rect x="556" y="323" width="1" height="38" fill="#000"/>
<rect x="554" y="325" width="5" height="35" fill="#000"/>
<rect x="555" y="326" width="3" height="33" fill="#fff"/>
<rect x="564" y="318" width="1" height="6" fill="#000"/>
<rect x="562" y="320" width="5" height="3" fill="#000"/>
<rect x="563" y="321" width="3" height="1" fill="#fff"/>
<rect x="572" y="301" width="1" height="22" fill="#000"/>
<rect x="570" y="304" width="5" height="17" fill="#000"/>
<rect x="571" y="305" width="3" height="15" fill="#fff"/>
<rect x="580" y="298" width="1" height="13" fill="#000"/>
<rect x="578" y="304" width="5" height="2" fill="#000"/>
<rect x="588" y="300" width="1" height="16" fill="#000"/>
<rect x="586" y="306" width="5" height="1" fill="#000"/>
<rect x="596" y="269" width="1" height="42" fill="#000"/>
<rect x="594" y="275" width="5" height="32" fill="#000"/>
<rect x="595" y="276" width="3" height="30" fill="#fff"/>
<rect x="604" y="271" width="1" height="22" fill="#000"/>
<rect x="602" y="275" width="5" height="7" fill="#000"/>
<rect x="612" y="279" width="1" height="4" fill="#000"/>
<rect x="610" y="281" width="5" height="2" fill="#000"/>
<rect x="620" y="276" width="1" height="25" fill="#000"/>
<rect x="618" y="281" width="5" height="2" fill="#000"/>
<rect x="628" y="269" width="1" height="17" fill="#000"/>
<rect x="626" y="280" width="5" height="2" fill="#000"/>
<rect x="636" y="265" width="1" height="30" fill="#000"/>
<rect x="634" y="267" width="5" height="14" fill="#000"/>
<rect x="635" y="268" width="3" height="12" fill="#fff"/>
<rect x="644" y="260" width="1" height="21" fill="#000"/>
<rect x="642" y="266" width="5" height="2" fill="#000"/>
<rect x="652" y="241" width="1" height="27" fill="#000"/>
<rect x="650" y="243" width="5" height="23" fill="#000"/>
<rect x="651" y="244" width="3" height="21" fill="#fff"/>
<rect x="660" y="242" width="1" height="5" fill="#000"/>
<rect x="658" y="242" width="5" height="4" fill="#000"/>
<rect x="668" y="230" width="1" height="17" fill="#000"/>
<rect x="666" y="238" width="5" height="8" fill="#000"/>
<rect x="667" y="239" width="3" height="6" fill="#fff"/>
<rect x="676" y="222" width="1" height="36" fill="#000"/>
<rect x="674" y="238" width="5" height="19" fill="#000"/>
<rect x="684" y="252" width="1" height="28" fill="#000"/>
<rect x="682" y="255" width="5" height="14" fill="#000"/>
<rect x="692" y="256" width="1" height="23" fill="#000"/>
<rect x="690" y="268" width="5" height="2" fill="#000"/>
<rect x="700" y="253" width="1" height="17" fill="#000"/>
<rect x="698" y="254" width="5" height="16" fill="#000"/>
<rect x="699" y="255" width="3" height="14" fill="#fff"/>
<rect x="708" y="246" width="1" height="2" fill="#000"/>
<rect x="706" y="246" width="5" height="3" fill="#000"/>
<rect x="707" y="247" width="3" height="1" fill="#fff"/>
<rect x="716" y="230" width="1" height="18" fill="#000"/>
<rect x="714" y="232" width="5" height="14" fill="#000"/>
<rect x="715" y="233" width="3" height="12" fill="#fff"/>
<rect x="724" y="220" width="1" height="18" fill="#000"/>
<rect x="722" y="223" width="5" height="10" fill="#000"/>
<rect x="723" y="224" width="3" height="8" fill="#fff"/>
<rect x="732" y="216" width="1" height="15" fill="#000"/>
<rect x="730" y="223" width="5" height="6" fill="#000"/>
<rect x="740" y="223" width="1" height="10" fill="#000"/>
<rect x="738" y="223" width="5" height="7" fill="#000"/>
<rect x="739" y="224" width="3" height="5" fill="#fff"/>
<rect x="748" y="223" width="1" height="10" fill="#000"/>
<rect x="746" y="223" width="5" height="7" fill="#000"/>
<rect x="756" y="224" width="1" height="5" fill="#000"/>
<rect x="754" y="224" width="5" height="3" fill="#000"/>
<rect x="755" y="225" width="3" height="1" fill="#fff"/>
<rect x="764" y="214" width="1" height="55" fill="#000"/>
<rect x="762" y="224" width="5" height="42" fill="#000"/>
<rect x="772" y="255" width="1" height="65" fill="#000"/>
<rect x="770" y="265" width="5" height="32" fill="#000"/>
<rect x="780" y="270" width="1" height="40" fill="#000"/>
<rect x="778" y="281" width="5" height="15" fill="#000"/>
<rect x="779" y="282" width="3" height="13" fill="#fff"/>
<rect x="788" y="264" width="1" height="27" fill="#000"/>
<rect x="786" y="274" width="5" height="8" fill="#000"/>
<rect x="787" y="275" width="3" height="6" fill="#fff"/>
<rect x="796" y="233" width="1" height="41" fill="#000"/>
<rect x="794" y="236" width="5" height="39" fill="#000"/>
<rect x="795" y="237" width="3" height="37" fill="#fff"/>
<rect x="804" y="232" width="1" height="4" fill="#000"/>
<rect x="802" y="233" width="5" height="3" fill="#000"/>
<rect x="812" y="235" width="1" height="18" fill="#000"/>
<rect x="810" y="235" width="5" height="14" fill="#000"/>
<rect x="820" y="242" width="1" height="29" fill="#000"/>
<rect x="818" y="247" width="5" height="3" fill="#000"/>
<rect x="828" y="240" width="1" height="21" fill="#000"/>
<rect x="826" y="244" width="5" height="6" fill="#000"/>
<rect x="827" y="245" width="3" height="4" fill="#fff"/>
<rect x="836" y="206" width="1" height="49" fill="#000"/>
<rect x="834" y="207" width="5" height="38" fill="#000"/>
<rect x="835" y="208" width="3" height="36" fill="#fff"/>
<rect x="844" y="202" width="1" height="32" fill="#000"/>
<rect x="842" y="207" width="5" height="12" fill="#000"/>
<rect x="852" y="212" width="1" height="6" fill="#000"/>
<rect x="850" y="214" width="5" height="4" fill="#000"/>
<rect x="860" y="196" width="1" height="23" fill="#000"/>
<rect x="858" y="212" width="5" height="6" fill="#000"/>
<rect x="859" y="213" width="3" height="4" fill="#fff"/>
<rect x="868" y="198" width="1" height="20" fill="#000"/>
<rect x="866" y="205" width="5" height="8" fill="#000"/>
<rect x="867" y="206" width="3" height="6" fill="#fff"/>
<rect x="876" y="198" width="1" height="11" fill="#000"/>
<rect x="874" y="204" width="5" height="2" fill="#000"/>
<rect x="884" y="187" width="1" height="21" fill="#000"/>
<rect x="882" y="189" width="5" height="16" fill="#000"/>
<rect x="883" y="190" width="3" height="14" fill="#fff"/>
<rect x="892" y="175" width="1" height="18" fill="#000"/>
<rect x="890" y="180" width="5" height="9" fill="#000"/>
<rect x="891" y="181" width="3" height="7" fill="#fff"/>
<rect x="900" y="177" width="1" height="5" fill="#000"/>
<rect x="898" y="178" width="5" height="2" fill="#000"/>
<rect x="908" y="168" width="1" height="14" fill="#000"/>
<rect x="906" y="170" width="5" height="9" fill="#000"/>
<rect x="907" y="171" width="3" height="7" fill="#fff"/>
<rect x="916" y="168" width="1" height="11" fill="#000"/>
<rect x="914" y="170" width="5" height="8" fill="#000"/>
<rect x="924" y="175" width="1" height="2" fill="#000"/>
<rect x="922" y="175" width="5" height="2" fill="#000"/>
<rect x="932" y="163" width="1" height="14" fill="#000"/>
<rect x="930" y="164" width="5" height="13" fill="#000"/>
<rect x="931" y="165" width="3" height="11" fill="#fff"/>
<rect x="940" y="152" width="1" height="15" fill="#000"/>
<rect x="938" y="164" width="5" height="2" fill="#000"/>
<rect x="948" y="161" width="1" height="4" fill="#000"/>
<rect x="946" y="161" width="5" height="4" fill="#000"/>
<rect x="947" y="162" width="3" height="2" fill="#fff"/>
<rect x="956" y="159" width="1" height="31" fill="#000"/>
<rect x="954" y="161" width="5" height="23" fill="#000"/>
<rect x="964" y="172" width="1" height="26" fill="#000"/>
<rect x="962" y="172" width="5" height="10" fill="#000"/>
<rect x="963" y="173" width="3" height="8" fill="#fff"/>
<rect x="972" y="167" width="1" height="4" fill="#000"/>
<rect x="970" y="167" width="5" height="4" fill="#000"/>
<rect x="980" y="132" width="1" height="40" fill="#000"/>
<rect x="978" y="134" width="5" height="36" fill="#000"/>
<rect x="979" y="135" width="3" height="34" fill="#fff"/>
<rect x="988" y="131" width="1" height="56" fill="#000"/>
<rect x="986" y="134" width="5" height="33" fill="#000"/>
<rect x="996" y="179" width="1" height="5" fill="#000"/>
<rect x="994" y="178" width="5" height="7" fill="#000"/>
<rect x="995" y="179" width="3" height="5" fill="#fff"/>
<rect x="1004" y="154" width="1" height="43" fill="#000"/>
<rect x="1002" y="163" width="5" height="16" fill="#000"/>
<rect x="1003" y="164" width="3" height="14" fill="#fff"/>
<rect x="1012" y="150" width="1" height="64" fill="#000"/>
<rect x="1010" y="163" width="5" height="44" fill="#000"/>
<rect x="1020" y="138" width="1" height="90" fill="#000"/>
<rect x="1018" y="145" width="5" height="61" fill="#000"/>
<rect x="1019" y="146" width="3" height="59" fill="#fff"/>
<rect x="1028" y="124" width="1" height="26" fill="#000"/>
<rect x="1026" y="125" width="5" height="20" fill="#000"/>
<rect x="1027" y="126" width="3" height="18" fill="#fff"/>
<rect x="1036" y="116" width="1" height="33" fill="#000"/>
<rect x="1034" y="125" width="5" height="21" fill="#000"/>
<rect x="1044" y="138" width="1" height="6" fill="#000"/>
<rect x="1042" y="141" width="5" height="4" fill="#000"/>
<rect x="1043" y="142" width="3" height="2" fill="#fff"/>
<rect x="1052" y="129" width="1" height="17" fill="#000"/>
<rect x="1050" y="129" width="5" height="13" fill="#000"/>
<rect x="1051" y="130" width="3" height="11" fill="#fff"/>
<rect x="1060" y="117" width="1" height="34" fill="#000"/>
<rect x="1058" y="129" width="5" height="7" fill="#000"/>
<rect x="1068" y="108" width="1" height="31" fill="#000"/>
<rect x="1066" y="112" width="5" height="25" fill="#000"/>
<rect x="1067" y="113" width="3" height="23" fill="#fff"/>
<rect x="1076" y="81" width="1" height="35" fill="#000"/>
<rect x="1074" y="85" width="5" height="28" fill="#000"/>
<rect x="1075" y="86" width="3" height="26" fill="#fff"/>
<rect x="1084" y="76" width="1" height="13" fill="#000"/>
<rect x="1082" y="84" width="5" height="3" fill="#000"/>
<rect x="1092" y="82" width="1" height="7" fill="#000"/>
<rect x="1090" y="82" width="5" height="4" fill="#000"/>
<rect x="1091" y="83" width="3" height="2" fill="#fff"/>
<rect x="1100" y="81" width="1" height="11" fill="#000"/>
<rect x="1098" y="82" width="5" height="4" fill="#000"/>
<rect x="1108" y="83" width="1" height="24" fill="#000"/>
<rect x="1106" y="85" width="5" height="14" fill="#000"/>
<rect x="1116" y="82" width="1" height="29" fill="#000"/>
<rect x="1114" y="98" width="5" height="12" fill="#000"/>
<rect x="1124" y="97" width="1" height="31" fill="#000"/>
<rect x="1122" y="99" width="5" height="11" fill="#000"/>
<rect x="1123" y="100" width="3" height="9" fill="#fff"/>
<rect x="1132" y="90" width="1" height="54" fill="#000"/>
<rect x="1130" y="99" width="5" height="28" fill="#000"/>
<rect x="1140" y="153" width="1" height="13" fill="#000"/>
<rect x="1138" y="153" width="5" height="8" fill="#000"/>
<rect x="1148" y="150" width="1" height="40" fill="#000"/>
<rect x="1146" y="160" width="5" height="13" fill="#000"/>
<rect x="1156" y="145" width="1" height="33" fill="#000"/>
<rect x="1154" y="156" width="5" height="16" fill="#000"/>
<rect x="1155" y="157" width="3" height="14" fill="#fff"/>
<rect x="1164" y="132" width="1" height="29" fill="#000"/>
<rect x="1162" y="152" width="5" height="5" fill="#000"/>
<rect x="1163" y="153" width="3" height="3" fill="#fff"/>
<rect x="1172" y="137" width="1" height="50" fill="#000"/>
<rect x="1170" y="142" width="5" height="11" fill="#000"/>
<rect x="1171" y="143" width="3" height="9" fill="#fff"/>
<rect x="1180" y="133" width="1" height="93" fill="#000"/>
<rect x="1178" y="142" width="5" height="68" fill="#000"/>
<rect x="1188" y="204" width="1" height="14" fill="#000"/>
<rect x="1186" y="208" width="5" height="11" fill="#000"/>
<rect x="1187" y="209" width="3" height="9" fill="#fff"/>
<rect x="1196" y="169" width="1" height="42" fill="#000"/>
<rect x="1194" y="197" width="5" height="10" fill="#000"/>
<rect x="1195" y="198" width="3" height="8" fill="#fff"/>
<rect x="1204" y="137" width="1" height="62" fill="#000"/>
<rect x="1202" y="150" width="5" height="48" fill="#000"/>
<rect x="1203" y="151" width="3" height="46" fill="#fff"/>
<rect x="1212" y="86" width="1" height="70" fill="#000"/>
<rect x="1210" y="91" width="5" height="60" fill="#000"/>
<rect x="1211" y="92" width="3" height="58" fill="#fff"/>
<rect x="1220" y="63" width="1" height="34" fill="#000"/>
<rect x="1218" y="76" width="5" height="17" fill="#000"/>
<rect x="1219" y="77" width="3" height="15" fill="#fff"/>
<rect x="1228" y="76" width="1" height="43" fill="#000"/>
<rect x="1226" y="76" width="5" height="38" fill="#000"/>
<rect x="1236" y="109" width="1" height="28" fill="#000"/>
<rect x="1234" y="117" width="5" height="13" fill="#000"/>
<rect x="1244" y="89" width="1" height="41" fill="#000"/>
<rect x="1242" y="91" width="5" height="38" fill="#000"/>
<rect x="1243" y="92" width="3" height="36" fill="#fff"/>
<rect x="1252" y="72" width="1" height="28" fill="#000"/>
<rect x="1250" y="88" width="5" height="4" fill="#000"/>
<rect x="1251" y="89" width="3" height="2" fill="#fff"/>
<rect x="1260" y="54" width="1" height="41" fill="#000"/>
<rect x="1258" y="69" width="5" height="20" fill="#000"/>
<rect x="1259" y="70" width="3" height="18" fill="#fff"/>
<rect x="1268" y="58" width="1" height="32" fill="#000"/>
<rect x="1266" y="69" width="5" height="3" fill="#000"/>
<rect x="1276" y="57" width="1" height="31" fill="#000"/>
<rect x="1274" y="71" width="5" height="1" fill="#000"/>
<rect x="1284" y="64" width="1" height="10" fill="#000"/>
<rect x="1282" y="66" width="5" height="8" fill="#000"/>
<rect x="1283" y="67" width="3" height="6" fill="#fff"/>
<rect x="1292" y="62" width="1" height="19" fill="#000"/>
<rect x="1290" y="66" width="5" height="11" fill="#000"/>
<rect x="1300" y="76" width="1" height="32" fill="#000"/>
<rect x="1298" y="76" width="5" height="9" fill="#000"/>
<rect x="1308" y="71" width="1" height="20" fill="#000"/>
<rect x="1306" y="73" width="5" height="12" fill="#000"/>
<rect x="1307" y="74" width="3" height="10" fill="#fff"/>
<rect x="1316" y="67" width="1" height="60" fill="#000"/>
<rect x="1314" y="73" width="5" height="39" fill="#000"/>
<rect x="1324" y="100" width="1" height="35" fill="#000"/>
<rect x="1322" y="110" width="5" height="11" fill="#000"/>
<rect x="1332" y="148" width="1" height="22" fill="#000"/>
<rect x="1330" y="149" width="5" height="13" fill="#000"/>
<rect x="1340" y="157" width="1" height="98" fill="#000"/>
<rect x="1338" y="160" width="5" height="71" fill="#000"/>
<rect x="1348" y="210" width="1" height="150" fill="#000"/>
<rect x="1346" y="231" width="5" height="94" fill="#000"/>
<rect x="1356" y="307" width="1" height="86" fill="#000"/>
<rect x="1354" y="324" width="5" height="40" fill="#000"/>
</g>
<rect x="1610" y="314" width="4" height="4" fill="#fff" stroke="#ff0000" stroke-width="1" transform="translate(0.5,0.5)"/>
<rect x="-4" y="314" width="4" height="4" fill="#fff" stroke="#ff0000" stroke-width="1" transform="translate(0.5,0.5)"/>
<rect x="1610" y="338" width="4" height="4" fill="#fff" stroke="#32cd32" stroke-width="1" transform="translate(0.5,0.5)"/>
<rect x="-4" y="338" width="4" height="4" fill="#fff" stroke="#32cd32" stroke-width="1" transform="translate(0.5,0.5)"/>
<rect x="1610" y="400" width="4" height="4" fill="#fff" stroke="#0000ff" stroke-width="1" transform="translate(0.5,0.5)"/>
<rect x="-4" y="400" width="4" height="4" fill="#fff" stroke="#0000ff" stroke-width="1" transform="translate(0.5,0.5)"/>
<rect x="1610" y="430" width="4" height="4" fill="#fff" stroke="#0000ff" stroke-width="1" transform="translate(0.5,0.5)"/>
<rect x="-4" y="430" width="4" height="4" fill="#fff" stroke="#0000ff" stroke-width="1" transform="translate(0.5,0.5)"/>
</g>
<g clip-path="url(#cm)">
<line x1="1301.2" y1="76.5" x2="1385.0" y2="414.5" stroke="#ff0000" stroke-width="3" shape-rendering="crispEdges"/>
<g shape-rendering="crispEdges" stroke="#ff0000" fill="#ff0000"><line x1="1385.4" y1="418.2" x2="1379.2" y2="410.4" stroke-width="3"/><polygon points="1385.6,418.8 1388,406.4 1386,406.8 1382.2,407.6 1384,414" stroke-width="0.6"/></g>
<g shape-rendering="crispEdges"><rect x="1484" y="340" width="9" height="1" fill="#ff0000"/><rect x="1491.5" y="338.5" width="3" height="4" fill="#fff" stroke="#ff0000"/><rect x="1495.5" y="328.5" width="73" height="24" fill="#fff" stroke="#ff0000"/></g>
<text x="1496.8" y="348.3" font-size="22.5" fill="#ff0000" textLength="70" lengthAdjust="spacingAndGlyphs">27133.0</text>
<polygon points="1366,28 1375,28 1370.5,33" fill="#c0c0c0"/>
</g>
<g class="c" shape-rendering="crispEdges">
<rect x="0" y="27" width="1616" height="1" fill="#000"/>
<rect x="1615" y="27" width="1" height="554" fill="#000"/>
<rect x="0" y="580" width="1616" height="1" fill="#000"/>
<rect x="0" y="582" width="1616" height="1" fill="#000"/>
<rect x="1615" y="582" width="1" height="171" fill="#000"/>
<rect x="0" y="752" width="1616" height="1" fill="#000"/>
<rect x="0" y="754" width="1616" height="1" fill="#000"/>
<rect x="1615" y="754" width="1" height="175" fill="#000"/>
<rect x="0" y="928" width="1616" height="1" fill="#000"/>
<rect x="1661" y="25" width="1" height="923" fill="#d8d8d8"/>
<rect x="1616" y="49" width="2" height="1" fill="#000"/>
<text x="1621.0" y="53.0" style="font-size:10.2px" textLength="34.0" lengthAdjust="spacingAndGlyphs">29580.0</text>
<rect x="1616" y="82" width="2" height="1" fill="#000"/>
<text x="1621.0" y="86.0" style="font-size:10.2px" textLength="34.0" lengthAdjust="spacingAndGlyphs">29308.0</text>
<rect x="1616" y="115" width="2" height="1" fill="#000"/>
<text x="1621.0" y="119.0" style="font-size:10.2px" textLength="34.0" lengthAdjust="spacingAndGlyphs">29028.0</text>
<rect x="1616" y="148" width="2" height="1" fill="#000"/>
<text x="1621.0" y="152.0" style="font-size:10.2px" textLength="34.0" lengthAdjust="spacingAndGlyphs">28748.0</text>
<rect x="1616" y="181" width="2" height="1" fill="#000"/>
<text x="1621.0" y="185.0" style="font-size:10.2px" textLength="34.0" lengthAdjust="spacingAndGlyphs">28468.0</text>
<rect x="1616" y="214" width="2" height="1" fill="#000"/>
<text x="1621.0" y="218.0" style="font-size:10.2px" textLength="34.0" lengthAdjust="spacingAndGlyphs">28196.0</text>
<rect x="1616" y="247" width="2" height="1" fill="#000"/>
<text x="1621.0" y="251.0" style="font-size:10.2px" textLength="34.0" lengthAdjust="spacingAndGlyphs">27916.0</text>
<rect x="1616" y="280" width="2" height="1" fill="#000"/>
<text x="1621.0" y="284.0" style="font-size:10.2px" textLength="34.0" lengthAdjust="spacingAndGlyphs">27636.0</text>
<rect x="1616" y="313" width="2" height="1" fill="#000"/>
<text x="1621.0" y="317.0" style="font-size:10.2px" textLength="34.0" lengthAdjust="spacingAndGlyphs">27356.0</text>
<rect x="1616" y="346" width="2" height="1" fill="#000"/>
<text x="1621.0" y="350.0" style="font-size:10.2px" textLength="34.0" lengthAdjust="spacingAndGlyphs">27084.0</text>
<rect x="1616" y="379" width="2" height="1" fill="#000"/>
<text x="1621.0" y="383.0" style="font-size:10.2px" textLength="34.0" lengthAdjust="spacingAndGlyphs">26804.0</text>
<rect x="1616" y="412" width="2" height="1" fill="#000"/>
<text x="1621.0" y="416.0" style="font-size:10.2px" textLength="34.0" lengthAdjust="spacingAndGlyphs">26524.0</text>
<rect x="1616" y="445" width="2" height="1" fill="#000"/>
<text x="1621.0" y="449.0" style="font-size:10.2px" textLength="34.0" lengthAdjust="spacingAndGlyphs">26252.0</text>
<rect x="1616" y="478" width="2" height="1" fill="#000"/>
<text x="1621.0" y="482.0" style="font-size:10.2px" textLength="34.0" lengthAdjust="spacingAndGlyphs">25972.0</text>
<rect x="1616" y="511" width="2" height="1" fill="#000"/>
<text x="1621.0" y="515.0" style="font-size:10.2px" textLength="34.0" lengthAdjust="spacingAndGlyphs">25692.0</text>
<rect x="1616" y="544" width="2" height="1" fill="#000"/>
<text x="1621.0" y="548.0" style="font-size:10.2px" textLength="34.0" lengthAdjust="spacingAndGlyphs">25412.0</text>
<rect x="1616" y="577" width="2" height="1" fill="#000"/>
<text x="1621.0" y="581.0" style="font-size:10.2px" textLength="34.0" lengthAdjust="spacingAndGlyphs">25140.0</text>
<rect x="1617" y="281" width="41" height="11" fill="#ff0000"/>
<text x="1621.0" y="290.0" style="font-size:10.2px;fill:#fff" textLength="34.0" lengthAdjust="spacingAndGlyphs">27578.4</text>
<rect x="1617" y="310" width="41" height="11" fill="#ff0000"/>
<text x="1621.0" y="319.0" style="font-size:10.2px;fill:#fff" textLength="34.0" lengthAdjust="spacingAndGlyphs">27334.7</text>
<rect x="1617" y="334" width="41" height="11" fill="#32cd32"/>
<text x="1621.0" y="343.0" style="font-size:10.2px;fill:#fff" textLength="34.0" lengthAdjust="spacingAndGlyphs">27133.0</text>
<rect x="1617" y="357" width="41" height="11" fill="#000000"/>
<text x="1621.0" y="366.0" style="font-size:10.2px;fill:#fff" textLength="34.0" lengthAdjust="spacingAndGlyphs">26938.0</text>
<rect x="1617" y="396" width="41" height="11" fill="#0000ff"/>
<text x="1621.0" y="405.0" style="font-size:10.2px;fill:#fff" textLength="33.3" lengthAdjust="spacingAndGlyphs">26611.9</text>
<rect x="1617" y="426" width="41" height="11" fill="#0000ff"/>
<text x="1621.0" y="435.0" style="font-size:10.2px;fill:#fff" textLength="34.0" lengthAdjust="spacingAndGlyphs">26359.8</text>
<polygon points="0,38 3,34 6,38" fill="#000" shape-rendering="geometricPrecision"/>
<text x="11.4" y="39" style="font-size:10.2px" textLength="48.4" lengthAdjust="spacingAndGlyphs">DJ30-,Daily</text><text x="66.2" y="39" style="font-size:10.2px" textLength="140.6" lengthAdjust="spacingAndGlyphs">27269.0 27515.0 26694.0 26938.0</text>
<g clip-path="url(#cd)">
<rect x="4" y="665" width="1" height="60" fill="#c0c0c0"/>
<rect x="12" y="665" width="1" height="72" fill="#c0c0c0"/>
<rect x="20" y="665" width="1" height="79" fill="#c0c0c0"/>
<rect x="28" y="665" width="1" height="77" fill="#c0c0c0"/>
<rect x="36" y="665" width="1" height="71" fill="#c0c0c0"/>
<rect x="44" y="665" width="1" height="65" fill="#c0c0c0"/>
<rect x="52" y="665" width="1" height="63" fill="#c0c0c0"/>
<rect x="60" y="665" width="1" height="53" fill="#c0c0c0"/>
<rect x="68" y="665" width="1" height="46" fill="#c0c0c0"/>
<rect x="76" y="665" width="1" height="52" fill="#c0c0c0"/>
<rect x="84" y="665" width="1" height="62" fill="#c0c0c0"/>
<rect x="92" y="665" width="1" height="59" fill="#c0c0c0"/>
<rect x="100" y="665" width="1" height="56" fill="#c0c0c0"/>
<rect x="108" y="665" width="1" height="49" fill="#c0c0c0"/>
<rect x="116" y="665" width="1" height="37" fill="#c0c0c0"/>
<rect x="124" y="665" width="1" height="26" fill="#c0c0c0"/>
<rect x="132" y="665" width="1" height="19" fill="#c0c0c0"/>
<rect x="140" y="665" width="1" height="16" fill="#c0c0c0"/>
<rect x="148" y="665" width="1" height="15" fill="#c0c0c0"/>
<rect x="156" y="665" width="1" height="8" fill="#c0c0c0"/>
<rect x="164" y="660" width="1" height="5" fill="#c0c0c0"/>
<rect x="172" y="648" width="1" height="17" fill="#c0c0c0"/>
<rect x="180" y="639" width="1" height="26" fill="#c0c0c0"/>
<rect x="188" y="631" width="1" height="34" fill="#c0c0c0"/>
<rect x="196" y="624" width="1" height="41" fill="#c0c0c0"/>
<rect x="204" y="611" width="1" height="54" fill="#c0c0c0"/>
<rect x="212" y="603" width="1" height="62" fill="#c0c0c0"/>
<rect x="220" y="597" width="1" height="68" fill="#c0c0c0"/>
<rect x="228" y="597" width="1" height="68" fill="#c0c0c0"/>
<rect x="236" y="597" width="1" height="68" fill="#c0c0c0"/>
<rect x="244" y="597" width="1" height="68" fill="#c0c0c0"/>
<rect x="252" y="598" width="1" height="67" fill="#c0c0c0"/>
<rect x="260" y="600" width="1" height="65" fill="#c0c0c0"/>
<rect x="268" y="607" width="1" height="58" fill="#c0c0c0"/>
<rect x="276" y="611" width="1" height="54" fill="#c0c0c0"/>
<rect x="284" y="613" width="1" height="52" fill="#c0c0c0"/>
<rect x="292" y="619" width="1" height="46" fill="#c0c0c0"/>
<rect x="300" y="623" width="1" height="42" fill="#c0c0c0"/>
<rect x="308" y="628" width="1" height="37" fill="#c0c0c0"/>
<rect x="316" y="634" width="1" height="31" fill="#c0c0c0"/>
<rect x="324" y="638" width="1" height="27" fill="#c0c0c0"/>
<rect x="332" y="640" width="1" height="25" fill="#c0c0c0"/>
<rect x="340" y="649" width="1" height="16" fill="#c0c0c0"/>
<rect x="348" y="665" width="1" height="1" fill="#c0c0c0"/>
<rect x="356" y="665" width="1" height="15" fill="#c0c0c0"/>
<rect x="364" y="665" width="1" height="17" fill="#c0c0c0"/>
<rect x="372" y="665" width="1" height="19" fill="#c0c0c0"/>
<rect x="380" y="665" width="1" height="22" fill="#c0c0c0"/>
<rect x="388" y="665" width="1" height="30" fill="#c0c0c0"/>
<rect x="396" y="665" width="1" height="36" fill="#c0c0c0"/>
<rect x="404" y="665" width="1" height="31" fill="#c0c0c0"/>
<rect x="412" y="665" width="1" height="22" fill="#c0c0c0"/>
<rect x="420" y="665" width="1" height="12" fill="#c0c0c0"/>
<rect x="428" y="665" width="1" height="6" fill="#c0c0c0"/>
<rect x="436" y="664" width="1" height="1" fill="#c0c0c0"/>
<rect x="444" y="659" width="1" height="6" fill="#c0c0c0"/>
<rect x="452" y="654" width="1" height="11" fill="#c0c0c0"/>
<rect x="460" y="654" width="1" height="11" fill="#c0c0c0"/>
<rect x="468" y="654" width="1" height="11" fill="#c0c0c0"/>
<rect x="476" y="654" width="1" height="11" fill="#c0c0c0"/>
<rect x="484" y="656" width="1" height="9" fill="#c0c0c0"/>
<rect x="492" y="655" width="1" height="10" fill="#c0c0c0"/>
<rect x="500" y="656" width="1" height="9" fill="#c0c0c0"/>
<rect x="508" y="655" width="1" height="10" fill="#c0c0c0"/>
<rect x="516" y="655" width="1" height="10" fill="#c0c0c0"/>
<rect x="524" y="647" width="1" height="18" fill="#c0c0c0"/>
<rect x="532" y="644" width="1" height="21" fill="#c0c0c0"/>
<rect x="540" y="640" width="1" height="25" fill="#c0c0c0"/>
<rect x="548" y="641" width="1" height="24" fill="#c0c0c0"/>
<rect x="556" y="635" width="1" height="30" fill="#c0c0c0"/>
<rect x="564" y="631" width="1" height="34" fill="#c0c0c0"/>
<rect x="572" y="624" width="1" height="41" fill="#c0c0c0"/>
<rect x="580" y="620" width="1" height="45" fill="#c0c0c0"/>
<rect x="588" y="618" width="1" height="47" fill="#c0c0c0"/>
<rect x="596" y="611" width="1" height="54" fill="#c0c0c0"/>
<rect x="604" y="607" width="1" height="58" fill="#c0c0c0"/>
<rect x="612" y="605" width="1" height="60" fill="#c0c0c0"/>
<rect x="620" y="604" width="1" height="61" fill="#c0c0c0"/>
<rect x="628" y="603" width="1" height="62" fill="#c0c0c0"/>
<rect x="636" y="601" width="1" height="64" fill="#c0c0c0"/>
<rect x="644" y="600" width="1" height="65" fill="#c0c0c0"/>
<rect x="652" y="596" width="1" height="69" fill="#c0c0c0"/>
<rect x="660" y="594" width="1" height="71" fill="#c0c0c0"/>
<rect x="668" y="592" width="1" height="73" fill="#c0c0c0"/>
<rect x="676" y="595" width="1" height="70" fill="#c0c0c0"/>
<rect x="684" y="600" width="1" height="65" fill="#c0c0c0"/>
<rect x="692" y="604" width="1" height="61" fill="#c0c0c0"/>
<rect x="700" y="606" width="1" height="59" fill="#c0c0c0"/>
<rect x="708" y="607" width="1" height="58" fill="#c0c0c0"/>
<rect x="716" y="605" width="1" height="60" fill="#c0c0c0"/>
<rect x="724" y="603" width="1" height="62" fill="#c0c0c0"/>
<rect x="732" y="604" width="1" height="61" fill="#c0c0c0"/>
<rect x="740" y="603" width="1" height="62" fill="#c0c0c0"/>
<rect x="748" y="605" width="1" height="60" fill="#c0c0c0"/>
<rect x="756" y="606" width="1" height="59" fill="#c0c0c0"/>
<rect x="764" y="615" width="1" height="50" fill="#c0c0c0"/>
<rect x="772" y="628" width="1" height="37" fill="#c0c0c0"/>
<rect x="780" y="636" width="1" height="29" fill="#c0c0c0"/>
<rect x="788" y="642" width="1" height="23" fill="#c0c0c0"/>
<rect x="796" y="639" width="1" height="26" fill="#c0c0c0"/>
<rect x="804" y="638" width="1" height="27" fill="#c0c0c0"/>
<rect x="812" y="639" width="1" height="26" fill="#c0c0c0"/>
<rect x="820" y="640" width="1" height="25" fill="#c0c0c0"/>
<rect x="828" y="641" width="1" height="24" fill="#c0c0c0"/>
<rect x="836" y="635" width="1" height="30" fill="#c0c0c0"/>
<rect x="844" y="633" width="1" height="32" fill="#c0c0c0"/>
<rect x="852" y="631" width="1" height="34" fill="#c0c0c0"/>
<rect x="860" y="630" width="1" height="35" fill="#c0c0c0"/>
<rect x="868" y="627" width="1" height="38" fill="#c0c0c0"/>
<rect x="876" y="626" width="1" height="39" fill="#c0c0c0"/>
<rect x="884" y="622" width="1" height="43" fill="#c0c0c0"/>
<rect x="892" y="619" width="1" height="46" fill="#c0c0c0"/>
<rect x="900" y="616" width="1" height="49" fill="#c0c0c0"/>
<rect x="908" y="613" width="1" height="52" fill="#c0c0c0"/>
<rect x="916" y="612" width="1" height="53" fill="#c0c0c0"/>
<rect x="924" y="612" width="1" height="53" fill="#c0c0c0"/>
<rect x="932" y="611" width="1" height="54" fill="#c0c0c0"/>
<rect x="940" y="610" width="1" height="55" fill="#c0c0c0"/>
<rect x="948" y="610" width="1" height="55" fill="#c0c0c0"/>
<rect x="956" y="614" width="1" height="51" fill="#c0c0c0"/>
<rect x="964" y="616" width="1" height="49" fill="#c0c0c0"/>
<rect x="972" y="618" width="1" height="47" fill="#c0c0c0"/>
<rect x="980" y="613" width="1" height="52" fill="#c0c0c0"/>
<rect x="988" y="616" width="1" height="49" fill="#c0c0c0"/>
<rect x="996" y="621" width="1" height="44" fill="#c0c0c0"/>
<rect x="1004" y="623" width="1" height="42" fill="#c0c0c0"/>
<rect x="1012" y="633" width="1" height="32" fill="#c0c0c0"/>
<rect x="1020" y="629" width="1" height="36" fill="#c0c0c0"/>
<rect x="1028" y="624" width="1" height="41" fill="#c0c0c0"/>
<rect x="1036" y="623" width="1" height="42" fill="#c0c0c0"/>
<rect x="1044" y="623" width="1" height="42" fill="#c0c0c0"/>
<rect x="1052" y="621" width="1" height="44" fill="#c0c0c0"/>
<rect x="1060" y="621" width="1" height="44" fill="#c0c0c0"/>
<rect x="1068" y="617" width="1" height="48" fill="#c0c0c0"/>
<rect x="1076" y="610" width="1" height="55" fill="#c0c0c0"/>
<rect x="1084" y="605" width="1" height="60" fill="#c0c0c0"/>
<rect x="1092" y="601" width="1" height="64" fill="#c0c0c0"/>
<rect x="1100" y="600" width="1" height="65" fill="#c0c0c0"/>
<rect x="1108" y="602" width="1" height="63" fill="#c0c0c0"/>
<rect x="1116" y="606" width="1" height="59" fill="#c0c0c0"/>
<rect x="1124" y="608" width="1" height="57" fill="#c0c0c0"/>
<rect x="1132" y="615" width="1" height="50" fill="#c0c0c0"/>
<rect x="1140" y="627" width="1" height="38" fill="#c0c0c0"/>
<rect x="1148" y="640" width="1" height="25" fill="#c0c0c0"/>
<rect x="1156" y="647" width="1" height="18" fill="#c0c0c0"/>
<rect x="1164" y="652" width="1" height="13" fill="#c0c0c0"/>
<rect x="1172" y="654" width="1" height="11" fill="#c0c0c0"/>
<rect x="1180" y="665" width="1" height="2" fill="#c0c0c0"/>
<rect x="1188" y="665" width="1" height="13" fill="#c0c0c0"/>
<rect x="1196" y="665" width="1" height="19" fill="#c0c0c0"/>
<rect x="1204" y="665" width="1" height="16" fill="#c0c0c0"/>
<rect x="1212" y="665" width="1" height="2" fill="#c0c0c0"/>
<rect x="1220" y="654" width="1" height="11" fill="#c0c0c0"/>
<rect x="1228" y="651" width="1" height="14" fill="#c0c0c0"/>
<rect x="1236" y="651" width="1" height="14" fill="#c0c0c0"/>
<rect x="1244" y="644" width="1" height="21" fill="#c0c0c0"/>
<rect x="1252" y="639" width="1" height="26" fill="#c0c0c0"/>
<rect x="1260" y="631" width="1" height="34" fill="#c0c0c0"/>
<rect x="1268" y="626" width="1" height="39" fill="#c0c0c0"/>
<rect x="1276" y="623" width="1" height="42" fill="#c0c0c0"/>
<rect x="1284" y="620" width="1" height="45" fill="#c0c0c0"/>
<rect x="1292" y="620" width="1" height="45" fill="#c0c0c0"/>
<rect x="1300" y="621" width="1" height="44" fill="#c0c0c0"/>
<rect x="1308" y="622" width="1" height="43" fill="#c0c0c0"/>
<rect x="1316" y="629" width="1" height="36" fill="#c0c0c0"/>
<rect x="1324" y="637" width="1" height="28" fill="#c0c0c0"/>
<rect x="1332" y="651" width="1" height="14" fill="#c0c0c0"/>
<rect x="1340" y="665" width="1" height="8" fill="#c0c0c0"/>
<rect x="1348" y="665" width="1" height="44" fill="#c0c0c0"/>
<rect x="1356" y="665" width="1" height="78" fill="#c0c0c0"/>
<path d="M683 597.5h3M689 597.5h2M677 598.5h3M691 598.5h1M695 598.5h3M701 598.5h3M707 598.5h3M671 599.5h3M713 599.5h3M271 600.5h1M275 600.5h3M666 600.5h2M719 600.5h3M725 600.5h1M265 601.5h1M269 601.5h2M281 601.5h3M661 601.5h1M665 601.5h1M726 601.5h2M731 601.5h3M737 601.5h1M263 602.5h2M287 602.5h1M659 602.5h2M738 602.5h2M743 602.5h3M258 603.5h2M288 603.5h2M655 603.5h1M749 603.5h3M257 604.5h1M293 604.5h2M653 604.5h2M755 604.5h3M253 605.5h1M295 605.5h1M649 605.5h1M761 605.5h3M251 606.5h2M647 606.5h2M767 606.5h1M1133 606.5h2M299 607.5h2M768 607.5h2M1121 607.5h3M1127 607.5h3M1135 607.5h1M301 608.5h1M641 608.5h3M773 608.5h1M1115 608.5h3M1139 608.5h3M246 609.5h2M774 609.5h2M1110 609.5h2M1145 609.5h1M245 610.5h1M305 610.5h3M635 610.5h3M779 610.5h1M1109 610.5h1M1146 610.5h1M780 611.5h2M1103 611.5h3M1147 611.5h1M241 612.5h1M311 612.5h1M630 612.5h2M955 612.5h1M959 612.5h3M965 612.5h3M971 612.5h3M977 612.5h3M983 612.5h3M240 613.5h1M312 613.5h2M629 613.5h1M785 613.5h1M947 613.5h3M953 613.5h2M989 613.5h3M1098 613.5h2M1151 613.5h3M239 614.5h1M624 614.5h2M786 614.5h2M943 614.5h1M995 614.5h3M1097 614.5h1M317 615.5h2M623 615.5h1M941 615.5h2M1001 615.5h2M1093 615.5h1M1157 615.5h1M319 616.5h1M791 616.5h1M936 616.5h2M1003 616.5h1M1091 616.5h2M1158 616.5h1M235 617.5h1M618 617.5h2M792 617.5h2M935 617.5h1M1007 617.5h3M1087 617.5h1M1159 617.5h1M234 618.5h1M323 618.5h2M617 618.5h1M929 618.5h3M1013 618.5h3M1085 618.5h2M233 619.5h1M325 619.5h1M925 619.5h1M1019 619.5h2M1080 619.5h2M612 620.5h2M797 620.5h2M923 620.5h2M1021 620.5h1M1025 620.5h2M1079 620.5h1M1163 620.5h1M329 621.5h1M611 621.5h1M799 621.5h1M918 621.5h2M1027 621.5h1M1031 621.5h2M1073 621.5h3M1164 621.5h2M330 622.5h2M917 622.5h1M1033 622.5h1M1037 622.5h3M1043 622.5h1M229 623.5h1M606 623.5h2M803 623.5h2M911 623.5h3M1044 623.5h2M1049 623.5h3M1055 623.5h3M1061 623.5h3M1067 623.5h3M228 624.5h1M335 624.5h1M605 624.5h1M805 624.5h1M907 624.5h1M1169 624.5h1M227 625.5h1M336 625.5h1M905 625.5h2M1170 625.5h1M1318 625.5h3M1324 625.5h3M337 626.5h1M600 626.5h2M809 626.5h2M900 626.5h2M1171 626.5h1M1312 626.5h3M1330 626.5h2M599 627.5h1M811 627.5h1M899 627.5h1M1308 627.5h1M1332 627.5h1M223 628.5h1M341 628.5h1M893 628.5h3M1306 628.5h2M222 629.5h1M342 629.5h1M594 629.5h2M815 629.5h2M889 629.5h1M1336 629.5h1M221 630.5h1M343 630.5h1M593 630.5h1M817 630.5h1M887 630.5h2M1175 630.5h1M1300 630.5h3M1337 630.5h1M883 631.5h1M1176 631.5h2M1338 631.5h1M587 632.5h3M821 632.5h3M881 632.5h2M1295 632.5h2M347 633.5h1M875 633.5h3M1294 633.5h1M217 634.5h1M348 634.5h1M583 634.5h1M827 634.5h3M869 634.5h3M1342 634.5h1M216 635.5h1M349 635.5h1M581 635.5h2M863 635.5h3M1181 635.5h1M1289 635.5h2M1343 635.5h1M216 636.5h1M833 636.5h3M857 636.5h3M1182 636.5h1M1288 636.5h1M1344 636.5h1M577 637.5h1M839 637.5h3M845 637.5h3M851 637.5h3M1183 637.5h1M353 638.5h1M575 638.5h2M1283 638.5h2M354 639.5h1M1282 639.5h1M212 640.5h1M355 640.5h1M571 640.5h1M1347 640.5h1M211 641.5h1M569 641.5h2M1187 641.5h1M1348 641.5h1M210 642.5h1M1188 642.5h1M1278 642.5h1M1349 642.5h1M565 643.5h1M1189 643.5h1M1277 643.5h1M359 644.5h2M563 644.5h2M1276 644.5h1M361 645.5h1M559 645.5h1M207 646.5h1M557 646.5h2M1272 646.5h1M1352 646.5h1M206 647.5h1M552 647.5h2M1193 647.5h1M1271 647.5h1M1352 647.5h1M205 648.5h1M551 648.5h1M1194 648.5h1M1270 648.5h1M1353 648.5h1M365 649.5h1M545 649.5h3M1195 649.5h1M366 650.5h1M539 650.5h3M367 651.5h1M533 651.5h3M1266 651.5h1M201 652.5h1M529 652.5h1M1265 652.5h1M1355 652.5h1M200 653.5h1M516 653.5h2M521 653.5h3M527 653.5h2M1198 653.5h1M1264 653.5h1M1355 653.5h1M199 654.5h1M371 654.5h1M504 654.5h2M509 654.5h3M515 654.5h1M1199 654.5h1M372 655.5h1M499 655.5h1M503 655.5h1M1200 655.5h1M373 656.5h1M497 656.5h2M1260 656.5h1M492 657.5h2M1258 657.5h2M196 658.5h1M491 658.5h1M1204 658.5h2M195 659.5h1M377 659.5h1M1206 659.5h1M1254 659.5h1M194 660.5h1M378 660.5h1M485 660.5h3M1252 660.5h2M379 661.5h1M479 662.5h3M1210 662.5h2M1248 662.5h1M1212 663.5h1M1246 663.5h2M190 664.5h1M475 664.5h1M1216 664.5h2M1241 664.5h2M189 665.5h1M383 665.5h1M474 665.5h1M1218 665.5h1M1222 665.5h3M1240 665.5h1M188 666.5h1M384 666.5h1M473 666.5h1M1228 666.5h3M1234 666.5h3M385 667.5h1M468 668.5h2M467 669.5h1M184 670.5h1M389 670.5h2M183 671.5h1M391 671.5h1M462 671.5h2M182 672.5h1M461 672.5h1M395 674.5h1M457 674.5h1M396 675.5h1M455 675.5h2M178 676.5h1M397 676.5h1M177 677.5h1M176 678.5h1M451 678.5h1M401 679.5h1M449 679.5h2M402 680.5h1M403 681.5h1M172 682.5h1M444 682.5h2M171 683.5h1M407 683.5h1M443 683.5h1M170 684.5h1M408 684.5h1M438 684.5h2M409 685.5h1M437 685.5h1M431 686.5h3M413 687.5h3M425 687.5h3M166 688.5h1M419 688.5h3M165 689.5h1M164 690.5h1M160 694.5h1M159 695.5h1M158 696.5h1M154 699.5h1M153 700.5h1M152 701.5h1M147 704.5h2M146 705.5h1M142 706.5h1M140 707.5h2M136 708.5h1M134 709.5h2M130 711.5h1M128 712.5h2M124 714.5h1M122 715.5h2M117 717.5h2M116 718.5h1M2 720.5h1M112 720.5h1M3 721.5h1M110 721.5h2M4 722.5h1M105 722.5h2M104 723.5h1M99 724.5h2M98 725.5h1M8 726.5h1M92 726.5h3M9 727.5h1M86 727.5h3M10 728.5h1M80 728.5h3M74 729.5h3M14 730.5h1M68 730.5h3M15 731.5h2M62 731.5h3M56 732.5h3M20 733.5h3M46 733.5h1M50 733.5h3M26 734.5h3M32 734.5h3M38 734.5h3M44 734.5h2" stroke="#ff0000" stroke-width="1" fill="none"/>
</g>
<text x="0.4" y="595" style="font-size:10.2px" textLength="126.6" lengthAdjust="spacingAndGlyphs">MACD(12,26,9) -287.41 37.90</text>
<rect x="1616" y="584" width="2" height="1" fill="#000"/>
<rect x="1616" y="665" width="2" height="1" fill="#000"/>
<text x="1619.0" y="593.0" style="font-size:10.2px" textLength="28.8" lengthAdjust="spacingAndGlyphs">304.28</text><text x="1619.0" y="669.0" style="font-size:10.2px" textLength="18.3" lengthAdjust="spacingAndGlyphs">0.00</text><text x="1619.0" y="749.0" style="font-size:10.2px" textLength="31.9" lengthAdjust="spacingAndGlyphs">-319.38</text>
<g clip-path="url(#cr)">
<line x1="3" x2="1615" y1="790.5" y2="790.5" stroke="#c0c0c0" stroke-dasharray="3 3"/>
<line x1="3" x2="1615" y1="841.5" y2="841.5" stroke="#c0c0c0" stroke-dasharray="3 3"/>
<line x1="3" x2="1615" y1="902.5" y2="902.5" stroke="#c0c0c0" stroke-dasharray="3 3"/>
<path d="M652 798.5h3M666 798.5h3M651 799.5h1M655 799.5h3M663 799.5h3M669 799.5h1M650 800.5h1M658 800.5h5M669 800.5h1M648 801.5h2M670 801.5h1M647 802.5h1M670 802.5h1M646 803.5h1M671 803.5h1M980 803.5h1M645 804.5h1M671 804.5h1M723 804.5h2M946 804.5h3M979 804.5h2M641 805.5h4M672 805.5h1M720 805.5h3M725 805.5h2M906 805.5h3M932 805.5h5M943 805.5h3M948 805.5h1M979 805.5h1M981 805.5h1M635 806.5h6M672 806.5h1M718 806.5h2M727 806.5h2M903 806.5h3M909 806.5h1M930 806.5h2M937 806.5h6M949 806.5h1M978 806.5h1M981 806.5h1M634 807.5h1M673 807.5h1M716 807.5h2M729 807.5h1M898 807.5h5M910 807.5h2M929 807.5h1M949 807.5h1M978 807.5h1M981 807.5h1M596 808.5h2M631 808.5h3M673 808.5h1M715 808.5h1M730 808.5h2M737 808.5h5M895 808.5h3M912 808.5h1M927 808.5h2M950 808.5h1M977 808.5h1M982 808.5h1M595 809.5h1M598 809.5h2M630 809.5h1M674 809.5h1M713 809.5h2M732 809.5h5M742 809.5h1M890 809.5h5M913 809.5h2M925 809.5h2M950 809.5h1M977 809.5h1M982 809.5h1M594 810.5h1M600 810.5h3M617 810.5h13M674 810.5h1M712 810.5h1M743 810.5h3M754 810.5h3M887 810.5h3M915 810.5h1M921 810.5h4M950 810.5h1M976 810.5h1M982 810.5h1M593 811.5h1M603 811.5h14M675 811.5h1M710 811.5h2M746 811.5h1M751 811.5h3M756 811.5h1M884 811.5h3M916 811.5h5M951 811.5h1M976 811.5h1M983 811.5h1M204 812.5h2M592 812.5h1M675 812.5h1M709 812.5h1M747 812.5h4M757 812.5h1M883 812.5h1M951 812.5h1M975 812.5h1M983 812.5h1M1076 812.5h5M1089 812.5h6M203 813.5h1M206 813.5h1M591 813.5h1M676 813.5h1M707 813.5h2M757 813.5h1M881 813.5h2M952 813.5h1M975 813.5h1M983 813.5h1M1075 813.5h1M1081 813.5h8M1095 813.5h3M202 814.5h1M207 814.5h3M572 814.5h5M590 814.5h1M677 814.5h1M704 814.5h3M757 814.5h1M880 814.5h1M952 814.5h1M974 814.5h1M984 814.5h1M1074 814.5h1M1098 814.5h3M202 815.5h1M210 815.5h1M570 815.5h2M577 815.5h8M589 815.5h1M678 815.5h1M702 815.5h2M757 815.5h1M878 815.5h2M952 815.5h1M974 815.5h1M984 815.5h1M1073 815.5h1M1101 815.5h1M201 816.5h1M211 816.5h10M569 816.5h1M585 816.5h4M679 816.5h1M700 816.5h2M758 816.5h1M877 816.5h1M953 816.5h1M973 816.5h1M985 816.5h1M1072 816.5h1M1102 816.5h1M200 817.5h1M221 817.5h1M567 817.5h2M680 817.5h1M699 817.5h1M758 817.5h1M874 817.5h3M953 817.5h1M973 817.5h1M985 817.5h1M1071 817.5h1M1103 817.5h1M199 818.5h1M222 818.5h1M565 818.5h2M680 818.5h1M698 818.5h1M758 818.5h1M836 818.5h1M871 818.5h3M954 818.5h1M970 818.5h3M985 818.5h1M1070 818.5h1M1104 818.5h2M198 819.5h1M223 819.5h1M562 819.5h3M681 819.5h1M697 819.5h1M758 819.5h1M835 819.5h1M837 819.5h2M866 819.5h5M954 819.5h1M967 819.5h3M986 819.5h1M1069 819.5h1M1106 819.5h1M198 820.5h1M224 820.5h1M559 820.5h3M682 820.5h1M696 820.5h1M759 820.5h1M835 820.5h1M839 820.5h2M863 820.5h3M954 820.5h1M963 820.5h4M986 820.5h1M1028 820.5h1M1068 820.5h1M1107 820.5h1M1219 820.5h2M197 821.5h1M225 821.5h1M249 821.5h6M556 821.5h3M683 821.5h1M695 821.5h1M759 821.5h1M834 821.5h1M841 821.5h1M858 821.5h5M955 821.5h1M962 821.5h1M986 821.5h1M1026 821.5h2M1029 821.5h1M1067 821.5h1M1108 821.5h1M1218 821.5h1M1221 821.5h1M193 822.5h4M226 822.5h1M234 822.5h15M255 822.5h3M540 822.5h1M555 822.5h1M684 822.5h3M694 822.5h1M759 822.5h1M834 822.5h1M842 822.5h2M855 822.5h3M955 822.5h1M959 822.5h3M987 822.5h1M1025 822.5h1M1030 822.5h1M1066 822.5h1M1109 822.5h1M1215 822.5h3M1221 822.5h1M1282 822.5h3M185 823.5h8M227 823.5h1M231 823.5h3M258 823.5h3M538 823.5h2M541 823.5h1M555 823.5h1M687 823.5h3M693 823.5h1M759 823.5h1M833 823.5h1M844 823.5h11M956 823.5h1M958 823.5h1M987 823.5h1M1023 823.5h2M1031 823.5h1M1051 823.5h3M1064 823.5h2M1110 823.5h2M1123 823.5h2M1214 823.5h1M1222 823.5h1M1259 823.5h6M1279 823.5h3M1285 823.5h2M170 824.5h15M228 824.5h3M261 824.5h1M537 824.5h1M541 824.5h1M554 824.5h1M690 824.5h3M760 824.5h1M832 824.5h1M956 824.5h2M987 824.5h1M1021 824.5h2M1032 824.5h1M1050 824.5h1M1054 824.5h1M1063 824.5h1M1112 824.5h1M1122 824.5h1M1125 824.5h1M1212 824.5h2M1222 824.5h1M1258 824.5h1M1265 824.5h14M1287 824.5h2M167 825.5h3M261 825.5h1M535 825.5h2M542 825.5h1M553 825.5h1M760 825.5h1M832 825.5h1M988 825.5h1M1020 825.5h1M1032 825.5h1M1047 825.5h3M1055 825.5h3M1062 825.5h1M1113 825.5h2M1119 825.5h3M1125 825.5h1M1211 825.5h1M1223 825.5h1M1255 825.5h3M1289 825.5h1M164 826.5h3M262 826.5h1M524 826.5h5M533 826.5h2M543 826.5h1M553 826.5h1M760 826.5h1M796 826.5h9M831 826.5h1M988 826.5h1M1020 826.5h1M1033 826.5h1M1046 826.5h1M1058 826.5h1M1061 826.5h1M1115 826.5h1M1118 826.5h1M1126 826.5h1M1211 826.5h1M1224 826.5h1M1254 826.5h1M1290 826.5h2M163 827.5h1M263 827.5h1M282 827.5h3M522 827.5h2M529 827.5h4M544 827.5h1M552 827.5h1M761 827.5h1M796 827.5h1M805 827.5h1M830 827.5h1M989 827.5h1M1004 827.5h1M1019 827.5h1M1034 827.5h1M1042 827.5h4M1059 827.5h2M1116 827.5h2M1126 827.5h1M1210 827.5h1M1224 827.5h1M1249 827.5h5M1292 827.5h2M1307 827.5h2M162 828.5h1M264 828.5h1M279 828.5h3M285 828.5h1M521 828.5h1M544 828.5h1M551 828.5h1M761 828.5h1M795 828.5h1M806 828.5h1M830 828.5h1M990 828.5h1M1003 828.5h2M1019 828.5h1M1035 828.5h1M1039 828.5h3M1127 828.5h1M1210 828.5h1M1225 828.5h1M1244 828.5h5M1294 828.5h2M1304 828.5h3M1309 828.5h1M161 829.5h1M264 829.5h1M276 829.5h3M286 829.5h1M451 829.5h2M519 829.5h2M545 829.5h1M551 829.5h1M761 829.5h1M794 829.5h1M807 829.5h1M829 829.5h1M991 829.5h1M1001 829.5h2M1005 829.5h1M1019 829.5h1M1036 829.5h3M1127 829.5h1M1209 829.5h1M1226 829.5h1M1243 829.5h1M1296 829.5h3M1302 829.5h2M1309 829.5h1M160 830.5h1M265 830.5h1M274 830.5h2M286 830.5h1M435 830.5h4M448 830.5h3M453 830.5h1M517 830.5h2M546 830.5h1M550 830.5h1M761 830.5h1M794 830.5h1M808 830.5h2M829 830.5h1M992 830.5h2M1000 830.5h1M1005 830.5h1M1018 830.5h1M1128 830.5h1M1209 830.5h1M1226 830.5h1M1242 830.5h1M1299 830.5h3M1310 830.5h1M160 831.5h1M266 831.5h1M273 831.5h1M287 831.5h1M419 831.5h3M434 831.5h1M439 831.5h3M446 831.5h2M454 831.5h1M514 831.5h3M547 831.5h1M549 831.5h1M762 831.5h1M794 831.5h1M810 831.5h1M827 831.5h2M994 831.5h1M998 831.5h2M1006 831.5h1M1018 831.5h1M1128 831.5h1M1208 831.5h1M1227 831.5h1M1242 831.5h1M1310 831.5h1M159 832.5h1M267 832.5h1M271 832.5h2M288 832.5h1M418 832.5h1M422 832.5h2M431 832.5h3M442 832.5h4M454 832.5h1M511 832.5h3M547 832.5h1M549 832.5h1M762 832.5h1M793 832.5h1M811 832.5h1M826 832.5h1M995 832.5h1M997 832.5h1M1006 832.5h1M1017 832.5h1M1129 832.5h1M1208 832.5h1M1227 832.5h1M1241 832.5h1M1311 832.5h1M158 833.5h1M267 833.5h1M269 833.5h2M289 833.5h1M299 833.5h2M415 833.5h3M424 833.5h3M430 833.5h1M455 833.5h1M508 833.5h3M548 833.5h1M762 833.5h1M792 833.5h1M812 833.5h3M823 833.5h3M996 833.5h1M1006 833.5h1M1017 833.5h1M1129 833.5h1M1207 833.5h1M1228 833.5h1M1240 833.5h1M1311 833.5h1M157 834.5h1M268 834.5h1M290 834.5h1M298 834.5h1M301 834.5h2M414 834.5h1M427 834.5h3M456 834.5h1M507 834.5h1M762 834.5h1M792 834.5h1M815 834.5h3M822 834.5h1M1007 834.5h1M1017 834.5h1M1130 834.5h1M1207 834.5h1M1229 834.5h2M1239 834.5h1M1312 834.5h1M122 835.5h4M156 835.5h1M290 835.5h1M295 835.5h3M303 835.5h2M331 835.5h2M412 835.5h2M457 835.5h1M506 835.5h1M763 835.5h1M792 835.5h1M818 835.5h4M1007 835.5h1M1016 835.5h1M1130 835.5h1M1206 835.5h1M1231 835.5h2M1238 835.5h1M1312 835.5h1M119 836.5h3M126 836.5h2M155 836.5h1M291 836.5h1M294 836.5h1M305 836.5h1M330 836.5h1M332 836.5h1M411 836.5h1M458 836.5h1M504 836.5h2M763 836.5h1M791 836.5h1M1008 836.5h1M1016 836.5h1M1131 836.5h1M1206 836.5h1M1233 836.5h1M1238 836.5h1M1313 836.5h1M116 837.5h3M128 837.5h3M154 837.5h1M292 837.5h2M306 837.5h2M327 837.5h3M333 837.5h1M410 837.5h1M458 837.5h1M491 837.5h3M503 837.5h1M763 837.5h1M790 837.5h1M1008 837.5h1M1016 837.5h1M1131 837.5h1M1205 837.5h1M1234 837.5h2M1237 837.5h1M1313 837.5h1M115 838.5h1M131 838.5h4M153 838.5h1M308 838.5h2M326 838.5h1M333 838.5h1M409 838.5h1M459 838.5h1M465 838.5h13M490 838.5h1M494 838.5h2M502 838.5h1M763 838.5h1M790 838.5h1M1008 838.5h1M1015 838.5h1M1132 838.5h1M1205 838.5h1M1236 838.5h1M1314 838.5h1M114 839.5h1M135 839.5h3M152 839.5h1M310 839.5h1M323 839.5h3M334 839.5h1M408 839.5h1M460 839.5h5M478 839.5h2M487 839.5h3M496 839.5h3M501 839.5h1M764 839.5h1M790 839.5h1M1009 839.5h1M1015 839.5h1M1133 839.5h1M1204 839.5h1M1314 839.5h1M113 840.5h1M138 840.5h4M152 840.5h1M311 840.5h3M320 840.5h3M334 840.5h1M407 840.5h1M480 840.5h3M486 840.5h1M499 840.5h2M764 840.5h1M789 840.5h1M1009 840.5h1M1015 840.5h1M1133 840.5h1M1204 840.5h1M1315 840.5h1M60 841.5h3M112 841.5h1M142 841.5h1M151 841.5h1M314 841.5h1M318 841.5h2M335 841.5h1M406 841.5h1M483 841.5h3M764 841.5h1M788 841.5h1M1010 841.5h1M1014 841.5h1M1134 841.5h1M1203 841.5h1M1315 841.5h1M59 842.5h1M63 842.5h3M111 842.5h1M143 842.5h3M150 842.5h1M315 842.5h3M335 842.5h1M405 842.5h1M765 842.5h1M788 842.5h1M1010 842.5h1M1014 842.5h1M1135 842.5h1M1171 842.5h2M1203 842.5h1M1316 842.5h2M59 843.5h1M66 843.5h3M110 843.5h1M146 843.5h1M149 843.5h1M336 843.5h1M404 843.5h1M766 843.5h1M786 843.5h2M1010 843.5h1M1013 843.5h1M1135 843.5h1M1170 843.5h1M1172 843.5h1M1202 843.5h1M1318 843.5h1M58 844.5h1M69 844.5h1M109 844.5h1M147 844.5h2M336 844.5h1M404 844.5h1M766 844.5h1M785 844.5h1M1011 844.5h1M1013 844.5h1M1136 844.5h1M1167 844.5h3M1173 844.5h1M1202 844.5h1M1319 844.5h3M57 845.5h1M69 845.5h1M107 845.5h2M336 845.5h1M403 845.5h1M766 845.5h1M783 845.5h2M1011 845.5h1M1013 845.5h1M1137 845.5h1M1166 845.5h1M1173 845.5h1M1201 845.5h1M1322 845.5h1M56 846.5h1M70 846.5h1M106 846.5h1M337 846.5h1M403 846.5h1M767 846.5h1M781 846.5h2M1012 846.5h1M1137 846.5h1M1161 846.5h5M1173 846.5h1M1201 846.5h1M1323 846.5h2M4 847.5h1M56 847.5h1M70 847.5h1M103 847.5h3M337 847.5h1M402 847.5h1M768 847.5h1M780 847.5h1M1012 847.5h1M1138 847.5h1M1156 847.5h5M1174 847.5h1M1201 847.5h1M1325 847.5h1M3 848.5h2M42 848.5h4M55 848.5h1M71 848.5h1M102 848.5h1M338 848.5h1M364 848.5h2M402 848.5h1M768 848.5h1M779 848.5h1M1139 848.5h1M1155 848.5h1M1174 848.5h1M1200 848.5h1M1325 848.5h1M3 849.5h1M5 849.5h1M39 849.5h3M46 849.5h1M54 849.5h1M72 849.5h1M97 849.5h5M338 849.5h1M364 849.5h1M366 849.5h2M401 849.5h1M768 849.5h1M778 849.5h1M1139 849.5h1M1154 849.5h1M1175 849.5h1M1200 849.5h1M1326 849.5h1M2 850.5h1M5 850.5h1M34 850.5h5M47 850.5h3M53 850.5h1M72 850.5h1M92 850.5h5M339 850.5h1M363 850.5h1M368 850.5h3M401 850.5h1M769 850.5h1M777 850.5h1M1140 850.5h1M1153 850.5h1M1175 850.5h1M1199 850.5h1M1327 850.5h1M2 851.5h1M6 851.5h1M31 851.5h3M50 851.5h1M53 851.5h1M73 851.5h1M91 851.5h1M339 851.5h1M363 851.5h1M371 851.5h10M400 851.5h1M770 851.5h1M776 851.5h1M1141 851.5h2M1152 851.5h1M1175 851.5h1M1199 851.5h1M1327 851.5h1M1 852.5h1M6 852.5h1M28 852.5h3M51 852.5h2M74 852.5h1M91 852.5h1M340 852.5h1M362 852.5h1M381 852.5h1M400 852.5h1M770 852.5h1M776 852.5h1M1143 852.5h2M1151 852.5h1M1176 852.5h1M1199 852.5h1M1328 852.5h1M1 853.5h1M7 853.5h1M27 853.5h1M74 853.5h1M90 853.5h1M340 853.5h1M362 853.5h1M382 853.5h1M400 853.5h1M770 853.5h1M775 853.5h1M1145 853.5h1M1150 853.5h1M1176 853.5h1M1198 853.5h1M1329 853.5h1M0 854.5h1M7 854.5h1M26 854.5h1M75 854.5h1M89 854.5h1M340 854.5h1M361 854.5h1M382 854.5h1M399 854.5h1M771 854.5h1M774 854.5h1M1146 854.5h2M1149 854.5h1M1176 854.5h1M1198 854.5h1M1329 854.5h1M8 855.5h1M25 855.5h1M75 855.5h1M89 855.5h1M341 855.5h1M361 855.5h1M383 855.5h1M399 855.5h1M772 855.5h2M1148 855.5h1M1177 855.5h1M1197 855.5h1M1330 855.5h1M8 856.5h1M24 856.5h1M76 856.5h1M88 856.5h1M341 856.5h1M360 856.5h1M384 856.5h1M398 856.5h1M772 856.5h1M1177 856.5h1M1197 856.5h1M1331 856.5h1M9 857.5h1M24 857.5h1M77 857.5h1M87 857.5h1M342 857.5h1M360 857.5h1M385 857.5h1M398 857.5h1M1177 857.5h1M1196 857.5h1M1331 857.5h1M9 858.5h1M23 858.5h1M78 858.5h2M87 858.5h1M342 858.5h1M360 858.5h1M386 858.5h1M397 858.5h1M1178 858.5h1M1196 858.5h1M1332 858.5h1M10 859.5h1M22 859.5h1M80 859.5h1M86 859.5h1M343 859.5h1M359 859.5h1M386 859.5h1M397 859.5h1M1178 859.5h1M1194 859.5h2M1333 859.5h1M10 860.5h1M21 860.5h1M81 860.5h2M85 860.5h1M343 860.5h1M359 860.5h1M387 860.5h1M396 860.5h1M1179 860.5h1M1193 860.5h1M1333 860.5h1M11 861.5h1M19 861.5h2M83 861.5h1M85 861.5h1M344 861.5h1M358 861.5h1M388 861.5h9M1179 861.5h1M1191 861.5h2M1334 861.5h1M11 862.5h1M16 862.5h3M84 862.5h1M344 862.5h1M358 862.5h1M1179 862.5h1M1189 862.5h2M1334 862.5h1M12 863.5h1M14 863.5h2M345 863.5h1M357 863.5h1M1180 863.5h1M1185 863.5h4M1335 863.5h1M12 864.5h2M345 864.5h1M357 864.5h1M1180 864.5h5M1335 864.5h1M346 865.5h1M356 865.5h1M1336 865.5h1M346 866.5h1M355 866.5h2M1336 866.5h1M347 867.5h1M354 867.5h1M1337 867.5h1M347 868.5h1M351 868.5h3M1337 868.5h1M348 869.5h1M350 869.5h1M1338 869.5h1M348 870.5h2M1338 870.5h1M1339 871.5h1M1339 872.5h1M1340 873.5h1M1341 874.5h1M1341 875.5h1M1342 876.5h1M1342 877.5h1M1343 878.5h1M1343 879.5h1M1344 880.5h1M1345 881.5h1M1345 882.5h1M1346 883.5h1M1346 884.5h1M1347 885.5h1M1347 886.5h1M1348 887.5h2M1350 888.5h1M1351 889.5h3M1354 890.5h1M1355 891.5h1" stroke="#1e90ff" stroke-width="1" fill="none"/>
</g>
<text x="0.4" y="767" style="font-size:10.2px" textLength="68.4" lengthAdjust="spacingAndGlyphs">RSI(14) 21.4583</text>
<text x="1619.0" y="765.0" style="font-size:10.2px" textLength="15.7" lengthAdjust="spacingAndGlyphs">100</text>
<text x="1619.0" y="794.0" style="font-size:10.2px" textLength="10.5" lengthAdjust="spacingAndGlyphs">80</text>
<text x="1619.0" y="845.0" style="font-size:10.2px" textLength="10.5" lengthAdjust="spacingAndGlyphs">50</text>
<text x="1619.0" y="906.0" style="font-size:10.2px" textLength="10.5" lengthAdjust="spacingAndGlyphs">15</text>
<text x="1619.0" y="925.0" style="font-size:10.2px" textLength="5.2" lengthAdjust="spacingAndGlyphs">0</text>
<rect x="-4" y="929" width="1" height="3" fill="#000"/>
<text x="-4.8" y="941.0" style="font-size:10.2px" textLength="52.8" lengthAdjust="spacingAndGlyphs">12 Aug 2019</text>
<rect x="60" y="929" width="1" height="3" fill="#000"/>
<text x="59.2" y="941.0" style="font-size:10.2px" textLength="52.8" lengthAdjust="spacingAndGlyphs">21 Aug 2019</text>
<rect x="124" y="929" width="1" height="3" fill="#000"/>
<text x="123.2" y="941.0" style="font-size:10.2px" textLength="52.8" lengthAdjust="spacingAndGlyphs">30 Aug 2019</text>
<rect x="188" y="929" width="1" height="3" fill="#000"/>
<text x="187.2" y="941.0" style="font-size:10.2px" textLength="48.1" lengthAdjust="spacingAndGlyphs">9 Sep 2019</text>
<rect x="252" y="929" width="1" height="3" fill="#000"/>
<text x="251.2" y="941.0" style="font-size:10.2px" textLength="53.3" lengthAdjust="spacingAndGlyphs">18 Sep 2019</text>
<rect x="316" y="929" width="1" height="3" fill="#000"/>
<text x="315.2" y="941.0" style="font-size:10.2px" textLength="53.3" lengthAdjust="spacingAndGlyphs">27 Sep 2019</text>
<rect x="380" y="929" width="1" height="3" fill="#000"/>
<text x="379.2" y="941.0" style="font-size:10.2px" textLength="46.0" lengthAdjust="spacingAndGlyphs">7 Oct 2019</text>
<rect x="444" y="929" width="1" height="3" fill="#000"/>
<text x="443.2" y="941.0" style="font-size:10.2px" textLength="51.2" lengthAdjust="spacingAndGlyphs">16 Oct 2019</text>
<rect x="508" y="929" width="1" height="3" fill="#000"/>
<text x="507.2" y="941.0" style="font-size:10.2px" textLength="51.2" lengthAdjust="spacingAndGlyphs">25 Oct 2019</text>
<rect x="572" y="929" width="1" height="3" fill="#000"/>
<text x="571.2" y="941.0" style="font-size:10.2px" textLength="48.1" lengthAdjust="spacingAndGlyphs">4 Nov 2019</text>
<rect x="636" y="929" width="1" height="3" fill="#000"/>
<text x="635.2" y="941.0" style="font-size:10.2px" textLength="53.3" lengthAdjust="spacingAndGlyphs">13 Nov 2019</text>
<rect x="700" y="929" width="1" height="3" fill="#000"/>
<text x="699.2" y="941.0" style="font-size:10.2px" textLength="53.3" lengthAdjust="spacingAndGlyphs">22 Nov 2019</text>
<rect x="764" y="929" width="1" height="3" fill="#000"/>
<text x="763.2" y="941.0" style="font-size:10.2px" textLength="48.1" lengthAdjust="spacingAndGlyphs">2 Dec 2019</text>
<rect x="828" y="929" width="1" height="3" fill="#000"/>
<text x="827.2" y="941.0" style="font-size:10.2px" textLength="52.6" lengthAdjust="spacingAndGlyphs">11 Dec 2019</text>
<rect x="892" y="929" width="1" height="3" fill="#000"/>
<text x="891.2" y="941.0" style="font-size:10.2px" textLength="53.3" lengthAdjust="spacingAndGlyphs">20 Dec 2019</text>
<rect x="956" y="929" width="1" height="3" fill="#000"/>
<text x="955.2" y="941.0" style="font-size:10.2px" textLength="53.3" lengthAdjust="spacingAndGlyphs">30 Dec 2019</text>
<rect x="1020" y="929" width="1" height="3" fill="#000"/>
<text x="1019.2" y="941.0" style="font-size:10.2px" textLength="46.5" lengthAdjust="spacingAndGlyphs">8 Jan 2020</text>
<rect x="1084" y="929" width="1" height="3" fill="#000"/>
<text x="1083.2" y="941.0" style="font-size:10.2px" textLength="51.7" lengthAdjust="spacingAndGlyphs">17 Jan 2020</text>
<rect x="1148" y="929" width="1" height="3" fill="#000"/>
<text x="1147.2" y="941.0" style="font-size:10.2px" textLength="51.7" lengthAdjust="spacingAndGlyphs">27 Jan 2020</text>
<rect x="1212" y="929" width="1" height="3" fill="#000"/>
<text x="1211.2" y="941.0" style="font-size:10.2px" textLength="47.6" lengthAdjust="spacingAndGlyphs">5 Feb 2020</text>
<rect x="1276" y="929" width="1" height="3" fill="#000"/>
<text x="1275.2" y="941.0" style="font-size:10.2px" textLength="52.8" lengthAdjust="spacingAndGlyphs">14 Feb 2020</text>
<rect x="1340" y="929" width="1" height="3" fill="#000"/>
<text x="1339.2" y="941.0" style="font-size:10.2px" textLength="52.8" lengthAdjust="spacingAndGlyphs">24 Feb 2020</text>
</g>
<defs><pattern id="chk" width="2" height="2" patternUnits="userSpaceOnUse"><rect width="2" height="2" fill="#fff"/><rect width="1" height="1" fill="#f0f0f0"/><rect x="1" y="1" width="1" height="1" fill="#f0f0f0"/></pattern>
<linearGradient id="gcand" x1="0" x2="1" y1="0" y2="0"><stop offset="0" stop-color="#20c020"/><stop offset="0.5" stop-color="#a0ffa0"/><stop offset="1" stop-color="#20c020"/></linearGradient>
<linearGradient id="gyel" x1="0" x2="1" y1="0" y2="1"><stop offset="0" stop-color="#ffe868"/><stop offset="0.45" stop-color="#f2bc08"/><stop offset="1" stop-color="#d89c10"/></linearGradient>
<linearGradient id="gblu" x1="0" x2="0" y1="0" y2="1"><stop offset="0" stop-color="#40a0ff"/><stop offset="1" stop-color="#0060d0"/></linearGradient>
<linearGradient id="gsig" x1="0" x2="0.4" y1="0" y2="1"><stop offset="0" stop-color="#e4f0e4"/><stop offset="0.5" stop-color="#b4dcb0"/><stop offset="1" stop-color="#38a838"/></linearGradient>
<linearGradient id="gcloud" x1="0" x2="0" y1="0" y2="1"><stop offset="0" stop-color="#ffffff"/><stop offset="0.5" stop-color="#f0f4fa"/><stop offset="1" stop-color="#b8c6de"/></linearGradient>
<linearGradient id="gface" x1="0" x2="1" y1="0" y2="1"><stop offset="0" stop-color="#f4c428"/><stop offset="0.5" stop-color="#ffec80"/><stop offset="1" stop-color="#f0c020"/></linearGradient>
<linearGradient id="gclk" x1="0" x2="1" y1="0" y2="1"><stop offset="0" stop-color="#3898ff"/><stop offset="0.5" stop-color="#0868d8"/><stop offset="1" stop-color="#0040a0"/></linearGradient>
<linearGradient id="gbub" x1="0" x2="0.6" y1="0" y2="1"><stop offset="0" stop-color="#ffffff"/><stop offset="0.6" stop-color="#ececec"/><stop offset="1" stop-color="#c4c4c4"/></linearGradient>
</defs>
<g id="toolbar">
<rect x="0" y="0" width="1662" height="23" fill="#f0f0f0"/>
<rect x="0" y="22" width="1662" height="1" fill="#f5f5f5"/><rect x="0" y="23" width="1662" height="1" fill="#a4a4a4"/><rect x="0" y="24" width="1662" height="1" fill="#696969"/><rect x="0" y="25" width="1662" height="1" fill="#f8f8f8"/>
<rect x="0" y="13" width="2" height="4" fill="#10a010"/>
<text x="4.4" y="14.5" font-size="12" style="font-family:'Liberation Sans', 'Noto Sans CJK SC', sans-serif" fill="#000" textLength="36.6" lengthAdjust="spacingAndGlyphs">新订单</text>
<path d="M58.7 4.1 L68.9 12 L60.8 18.6 L53 12.9 Q56.4 9.6 58.1 4.4 Z" fill="url(#gyel)" stroke="#9a6206" stroke-width="1.2" stroke-linejoin="round"/>
<path d="M60.9 16.2 L68.0 10.6 L68.5 12.1 L60.9 18.1 Z" fill="#e2d4a0"/>
<path d="M53.6 12.2 L60.7 16.0 L60.8 18 L53.4 13.5 Z" fill="#f2d06c"/>
<path d="M53.8 12.0 L60.8 15.9 L68.0 10.3" fill="none" stroke="#b8820c" stroke-width="0.7"/>
<path d="M54.6 13.9 L60.4 17.4" fill="none" stroke="#fff2b8" stroke-width="0.8"/>
<path d="M83 3.6 L89.5 3 L94 4 V13 H83 Z" fill="#1c8cf0"/><path d="M83 3.6 L86.6 6.2 V13 H83Z" fill="#00a4ff"/><path d="M90.5 4 L94 4.4 V13 H90.5Z" fill="#0c6cd8" opacity="0.7"/>
<path d="M83.4 3.9 L86.6 6.2 V12" fill="none" stroke="#e8f6ff" stroke-width="0.8"/><path d="M88.1 8.3 L92.8 7.6" stroke="#e8f6ff" stroke-width="0.9"/><path d="M83 3.5 L89.5 2.9 L94 3.9" fill="none" stroke="#3878d8" stroke-width="0.6"/>
<path d="M83.6 18.5 C80.6 18.4 80.4 14.6 83 14.2 C82.8 12.4 85.6 11.8 86.6 13 C87.2 10.4 91.4 10.2 92.2 12.8 C93.6 11.8 95.8 12.6 95.6 14.2 C97.8 14.6 97.4 18.4 94.8 18.5 Z" fill="url(#gcloud)" stroke="#4a6cae" stroke-width="1"/>
<path d="M117 3 A7.8 7.8 0 0 1 117 18.6 Z" fill="url(#gsig)"/>
<g fill="none" stroke-width="1.1"><path d="M117 3.2 a7.6 7.6 0 0 0 0 15.2" stroke="#5c86dc" opacity="0.6"/><path d="M117 5.9 a4.9 4.9 0 0 0 0 9.8" stroke="#4c7cd4" opacity="0.6"/><path d="M117 3.2 a7.6 7.6 0 0 1 0 15.2" stroke="#4c84b4" opacity="0.6"/><path d="M117 5.9 a4.9 4.9 0 0 1 0 9.8" stroke="#5c98b8" opacity="0.55"/></g>
<circle cx="116.8" cy="10.7" r="2.1" fill="#2456c8"/><rect x="116.5" y="11" width="1.5" height="7.6" fill="#22a422"/>
<path d="M136.4 10.4 L151.8 9.8 L144.6 18.6 Z" fill="url(#gface)" stroke="#d0a010" stroke-width="0.8" stroke-linejoin="round"/>
<ellipse cx="144.1" cy="7.6" rx="7.9" ry="2.7" fill="#5cb2e2" stroke="#2c88b8" stroke-width="0.8" transform="rotate(-4 144.1 7.6)"/><path d="M140.4 7.4 C140.4 1.8 148 1.6 148.2 7 C146 8.4 142.6 8.6 140.4 7.4Z" fill="#78c0ea" stroke="#2c88b8" stroke-width="0.7"/>
<circle cx="148.5" cy="14.7" r="4" fill="#e02404"/><circle cx="148.5" cy="14.7" r="3.6" fill="none" stroke="#b81800" stroke-width="0.8"/><rect x="147" y="13.2" width="3" height="3" fill="#fff"/>
<text x="157.7" y="14.5" font-size="12" style="font-family:'Liberation Sans', 'Noto Sans CJK SC', sans-serif" fill="#000" textLength="46.8" lengthAdjust="spacingAndGlyphs">自动交易</text>
<rect x="212" y="0" width="1" height="22" fill="#a0a0a0"/><rect x="213" y="0" width="1" height="22" fill="#fcfcfc"/>
<rect x="216" y="1" width="3" height="1" fill="#a6a6a6"/><rect x="216" y="3" width="3" height="1" fill="#a6a6a6"/><rect x="216" y="5" width="3" height="1" fill="#a6a6a6"/><rect x="216" y="7" width="3" height="1" fill="#a6a6a6"/><rect x="216" y="9" width="3" height="1" fill="#a6a6a6"/><rect x="216" y="11" width="3" height="1" fill="#a6a6a6"/><rect x="216" y="13" width="3" height="1" fill="#a6a6a6"/><rect x="216" y="15" width="3" height="1" fill="#a6a6a6"/><rect x="216" y="17" width="3" height="1" fill="#a6a6a6"/><rect x="216" y="19" width="3" height="1" fill="#a6a6a6"/>
<g stroke="#585858" stroke-width="1.15" fill="none"><path d="M230.5 18.8 V6"/><path d="M227.9 16.4 H240.9"/></g><path d="M230.5 4.8 l1.9 2.4 h-3.8z M242.3 16.4 l-2.4 -1.9 v3.8z" fill="#585858"/>
<path d="M236.5 6 V14.4 M236.5 7.6 H239 M234 13.4 H236.5" stroke="#089008" stroke-width="1.4" fill="none"/>
<rect x="250" y="0" width="25" height="21" fill="url(#chk)"/><rect x="250" y="0" width="1" height="21" fill="#a0a0a0"/><rect x="250" y="20" width="25" height="1" fill="#fff"/><rect x="275" y="0" width="1" height="21" fill="#fff"/>
<g stroke="#585858" stroke-width="1.15" fill="none"><path d="M258.4 18.8 V6"/><path d="M255.8 16.4 H268.8"/></g><path d="M258.4 4.8 l1.9 2.4 h-3.8z M270.2 16.4 l-2.4 -1.9 v3.8z" fill="#585858"/>
<path d="M264.5 3 V14.8" stroke="#089008" stroke-width="1.4"/><rect x="262.4" y="5.4" width="4.3" height="7.4" fill="url(#gcand)" stroke="#089008" stroke-width="0.9"/>
<g stroke="#585858" stroke-width="1.15" fill="none"><path d="M286.4 18.8 V6"/><path d="M283.8 16.4 H296.8"/></g><path d="M286.4 4.8 l1.9 2.4 h-3.8z M298.2 16.4 l-2.4 -1.9 v3.8z" fill="#585858"/>
<path d="M285.2 13.6 C288 12 289.5 8 291.4 8.2 C293.2 8.4 294.5 11.3 296.8 12" stroke="#189818" stroke-width="1.3" fill="none"/>
<rect x="307" y="0" width="1" height="22" fill="#a0a0a0"/><rect x="308" y="0" width="1" height="22" fill="#fcfcfc"/>
<path d="M326.0 13 L330.6 17.6" stroke="#8a6a10" stroke-width="3.6" stroke-linecap="round"/><path d="M326.0 13 L330.6 17.6" stroke="#f0d040" stroke-width="2" stroke-linecap="round"/><circle cx="322.0" cy="8.9" r="5.6" fill="#d6efff" stroke="#3a80d8" stroke-width="1.3"/><path d="M318.8 8.9 h6.4" stroke="#3a88b0" stroke-width="1.8"/><path d="M322.0 5.7 v6.4" stroke="#3a88b0" stroke-width="1.8"/>
<path d="M354.1 13 L358.7 17.6" stroke="#8a6a10" stroke-width="3.6" stroke-linecap="round"/><path d="M354.1 13 L358.7 17.6" stroke="#f0d040" stroke-width="2" stroke-linecap="round"/><circle cx="350.1" cy="8.9" r="5.6" fill="#d6efff" stroke="#3a80d8" stroke-width="1.3"/><path d="M346.9 8.9 h6.4" stroke="#3a88b0" stroke-width="1.8"/>
<rect x="372" y="3" width="8" height="8" fill="#2e9a1e"/>
<path d="M373.0 5.6 h6 v4.6 h-1.2 v-1.2 h-3.6 v1.2 h-1.2z" fill="#fff"/>
<rect x="374.2" y="7.1" width="3.6" height="0.9" fill="#2e9a1e" opacity="0.45"/>
<rect x="373.0" y="4.0" width="1" height="1" fill="#fff" opacity="0.8"/>
<rect x="380" y="3" width="8" height="8" fill="#1848c8"/>
<path d="M381.0 5.6 h6 v4.6 h-1.2 v-1.2 h-3.6 v1.2 h-1.2z" fill="#fff"/>
<rect x="382.2" y="7.1" width="3.6" height="0.9" fill="#1848c8" opacity="0.45"/>
<rect x="381.0" y="4.0" width="1" height="1" fill="#fff" opacity="0.8"/>
<rect x="372" y="11" width="8" height="8" fill="#1848c8"/>
<path d="M373.0 13.6 h6 v4.6 h-1.2 v-1.2 h-3.6 v1.2 h-1.2z" fill="#fff"/>
<rect x="374.2" y="15.1" width="3.6" height="0.9" fill="#1848c8" opacity="0.45"/>
<rect x="373.0" y="12.0" width="1" height="1" fill="#fff" opacity="0.8"/>
<rect x="380" y="11" width="8" height="8" fill="#2e9a1e"/>
<path d="M381.0 13.6 h6 v4.6 h-1.2 v-1.2 h-3.6 v1.2 h-1.2z" fill="#fff"/>
<rect x="382.2" y="15.1" width="3.6" height="0.9" fill="#2e9a1e" opacity="0.45"/>
<rect x="381.0" y="12.0" width="1" height="1" fill="#fff" opacity="0.8"/>
<rect x="397" y="0" width="1" height="22" fill="#a0a0a0"/><rect x="398" y="0" width="1" height="22" fill="#fcfcfc"/>
<rect x="402" y="0" width="25" height="21" fill="url(#chk)"/><rect x="402" y="0" width="1" height="21" fill="#a0a0a0"/><rect x="402" y="20" width="25" height="1" fill="#fff"/><rect x="427" y="0" width="1" height="21" fill="#fff"/>
<g stroke="#585858" stroke-width="1.15" fill="none"><path d="M410.5 18.8 V6"/><path d="M407.9 16.4 H420.9"/></g><path d="M410.5 4.8 l1.9 2.4 h-3.8z M422.3 16.4 l-2.4 -1.9 v3.8z" fill="#585858"/>
<path d="M415.3 7 V13.8 L419.2 10.5 Z" fill="#90e890" stroke="#10a010" stroke-width="1"/>
<rect x="430" y="0" width="25" height="21" fill="url(#chk)"/><rect x="430" y="0" width="1" height="21" fill="#a0a0a0"/><rect x="430" y="20" width="25" height="1" fill="#fff"/><rect x="455" y="0" width="1" height="21" fill="#fff"/>
<g stroke="#585858" stroke-width="1.15" fill="none"><path d="M438.4 18.8 V6"/><path d="M435.8 16.4 H448.8"/></g><path d="M438.4 4.8 l1.9 2.4 h-3.8z M450.2 16.4 l-2.4 -1.9 v3.8z" fill="#585858"/>
<path d="M444.5 5 V14.8" stroke="#1a70a8" stroke-width="1.4"/><path d="M445.6 10.5 H450 M445.6 10.5 l2.6 -2 M445.6 10.5 l2.6 2" stroke="#e04800" stroke-width="1.2" fill="none"/>
<rect x="459" y="0" width="1" height="22" fill="#a0a0a0"/><rect x="460" y="0" width="1" height="22" fill="#fcfcfc"/>
<path d="M469.5 3.8 h7.5 l3.2 3.2 v9.4 h-10.7z" fill="#fff" stroke="#707070" stroke-width="1"/><path d="M477 3.8 v3.2 h3.2" fill="#e8e8e8" stroke="#707070" stroke-width="0.8"/>
<text x="471.3" y="13.5" font-size="9" font-style="italic" fill="#605040" style="font-family:'Liberation Serif',serif">f</text>
<path d="M477.6 9.3 h3.2 v4 h4 v3.2 h-4 v4 h-3.2 v-4 h-4 v-3.2 h4z" fill="#30dc30" stroke="#088808" stroke-width="0.9"/>
<path d="M491.0 9.9 h5.4 l-2.7 3.3z" fill="#000"/>
<circle cx="515.1" cy="10.9" r="6.9" fill="#f4f8fc" stroke="url(#gclk)" stroke-width="2.2"/>
<rect x="514.70" y="5.60" width="0.8" height="0.8" fill="#8090a0"/>
<rect x="517.15" y="6.26" width="0.8" height="0.8" fill="#8090a0"/>
<rect x="518.94" y="8.05" width="0.8" height="0.8" fill="#8090a0"/>
<rect x="519.60" y="10.50" width="0.8" height="0.8" fill="#8090a0"/>
<rect x="518.94" y="12.95" width="0.8" height="0.8" fill="#8090a0"/>
<rect x="517.15" y="14.74" width="0.8" height="0.8" fill="#8090a0"/>
<rect x="514.70" y="15.40" width="0.8" height="0.8" fill="#8090a0"/>
<rect x="512.25" y="14.74" width="0.8" height="0.8" fill="#8090a0"/>
<rect x="510.46" y="12.95" width="0.8" height="0.8" fill="#8090a0"/>
<rect x="509.80" y="10.50" width="0.8" height="0.8" fill="#8090a0"/>
<rect x="510.46" y="8.05" width="0.8" height="0.8" fill="#8090a0"/>
<rect x="512.25" y="6.26" width="0.8" height="0.8" fill="#8090a0"/>
<path d="M515.1 10.9 V6.6 M515.1 10.9 L518.2 11.6" stroke="#202020" stroke-width="1.2" fill="none"/><rect x="514" y="14" width="2.2" height="0.8" fill="#60a0ff"/>
<path d="M530.0 9.9 h5.4 l-2.7 3.3z" fill="#000"/>
<rect x="546.4" y="4.5" width="15.4" height="13" fill="#fff" stroke="#2868c8" stroke-width="1"/><rect x="546.4" y="4.5" width="15.4" height="2.2" fill="#4888e0"/><rect x="546.4" y="11.3" width="15.4" height="1" fill="#2868c8"/>
<path d="M548.5 10 l1.5 0 l2 -1.5 l1.5 0.5 l2 -1 l1.5 0.6 l2 -1" stroke="#a01010" stroke-width="1.1" fill="none"/><path d="M549 15.5 l1.5 -0.6 l2 0.8 l1.5 -1 l2 -1.4 l1.5 1.4 l1.5 1" stroke="#108818" stroke-width="1.1" fill="none"/>
<path d="M568.8 9.9 h5.4 l-2.7 3.3z" fill="#000"/>
<rect x="580" y="0" width="1" height="22" fill="#a0a0a0"/><rect x="581" y="0" width="1" height="22" fill="#fcfcfc"/>
<rect x="584" y="1" width="3" height="1" fill="#a6a6a6"/><rect x="584" y="3" width="3" height="1" fill="#a6a6a6"/><rect x="584" y="5" width="3" height="1" fill="#a6a6a6"/><rect x="584" y="7" width="3" height="1" fill="#a6a6a6"/><rect x="584" y="9" width="3" height="1" fill="#a6a6a6"/><rect x="584" y="11" width="3" height="1" fill="#a6a6a6"/><rect x="584" y="13" width="3" height="1" fill="#a6a6a6"/><rect x="584" y="15" width="3" height="1" fill="#a6a6a6"/><rect x="584" y="17" width="3" height="1" fill="#a6a6a6"/><rect x="584" y="19" width="3" height="1" fill="#a6a6a6"/>
<rect x="590" y="0" width="25" height="21" fill="url(#chk)"/><rect x="590" y="0" width="1" height="21" fill="#a0a0a0"/><rect x="590" y="20" width="25" height="1" fill="#fff"/><rect x="615" y="0" width="1" height="21" fill="#fff"/>
<path d="M598.2 4 V14.7 L600.8 12.3 L603.3 18 L605.2 17.2 L602.8 11.7 L606.2 11.6 Z" fill="#484848"/>
<path d="M623 11.5 H629 M632 11.5 H638 M630.5 4 V10 M630.5 13 V19" stroke="#505050" stroke-width="1.1"/>
<rect x="647" y="0" width="1" height="22" fill="#a0a0a0"/><rect x="648" y="0" width="1" height="22" fill="#fcfcfc"/>
<path d="M664.5 5 V18" stroke="#505050" stroke-width="1.1"/>
<path d="M687 11.5 H699.1" stroke="#505050" stroke-width="1.1"/>
<path d="M714.9 17.7 L727 6" stroke="#505050" stroke-width="1.1"/>
<g stroke="#484848" stroke-width="1" fill="none"><path d="M741 12.5 L749 5.5 M742.5 17.5 L755 6.8 M746 18 L754.8 10.2"/><path d="M743.5 15.5 l1.2 -5 l1.6 3.6 l1.6 -6 l1.8 4 l1.6 -6.6 l1.6 5"/></g>
<text x="751.6" y="19.8" font-size="7" font-weight="bold" fill="#303030">E</text>
<path d="M770 4.5 H783" stroke="#505050" stroke-width="1" stroke-dasharray="1 1" shape-rendering="crispEdges"/>
<path d="M770 7.5 H783" stroke="#505050" stroke-width="1" stroke-dasharray="1 1" shape-rendering="crispEdges"/>
<path d="M770 11.5 H783" stroke="#505050" stroke-width="1" stroke-dasharray="1 1" shape-rendering="crispEdges"/>
<path d="M770 15.5 H779" stroke="#505050" stroke-width="1" stroke-dasharray="1 1" shape-rendering="crispEdges"/>
<text x="779.6" y="19.8" font-size="7" font-weight="bold" fill="#303030">F</text>
<text x="800.8" y="15.9" font-size="12.5" fill="#505050" textLength="7.8" lengthAdjust="spacingAndGlyphs">A</text>
<rect x="827.5" y="5.5" width="11" height="12" fill="none" stroke="#505050" stroke-width="1" stroke-dasharray="1 1" shape-rendering="crispEdges"/><rect x="826" y="4" width="2" height="1" fill="#505050"/>
<text x="829" y="15.9" font-size="11.2" fill="#505050" stroke="#505050" stroke-width="0.45" textLength="8" lengthAdjust="spacingAndGlyphs">T</text>
<path d="M857.5 4.8 l3.6 3.3 h-2.2 l-1.4 1.5 l-1.4 -1.5 h-2.2z M864.7 18 l3.6 -3.5 h-2.2 l-1.4 -1.4 l-1.4 1.4 h-2.2z" fill="#484848"/><path d="M856.6 12.2 l2.2 2.2 l5.4 -5.4" stroke="#484848" stroke-width="1.3" fill="none"/>
<path d="M874.8 9.9 h5.4 l-2.7 3.3z" fill="#000"/>
<rect x="886" y="0" width="1" height="22" fill="#a0a0a0"/><rect x="887" y="0" width="1" height="22" fill="#fcfcfc"/>
<rect x="890" y="1" width="3" height="1" fill="#a6a6a6"/><rect x="890" y="3" width="3" height="1" fill="#a6a6a6"/><rect x="890" y="5" width="3" height="1" fill="#a6a6a6"/><rect x="890" y="7" width="3" height="1" fill="#a6a6a6"/><rect x="890" y="9" width="3" height="1" fill="#a6a6a6"/><rect x="890" y="11" width="3" height="1" fill="#a6a6a6"/><rect x="890" y="13" width="3" height="1" fill="#a6a6a6"/><rect x="890" y="15" width="3" height="1" fill="#a6a6a6"/><rect x="890" y="17" width="3" height="1" fill="#a6a6a6"/><rect x="890" y="19" width="3" height="1" fill="#a6a6a6"/>
<text x="907.7" y="14.6" font-size="9" text-anchor="middle" fill="#303030">M1</text>
<text x="935.8" y="14.6" font-size="9" text-anchor="middle" fill="#303030">M5</text>
<text x="964.2" y="14.6" font-size="9" text-anchor="middle" fill="#303030">M15</text>
<text x="992.4" y="14.6" font-size="9" text-anchor="middle" fill="#303030">M30</text>
<text x="1020.3" y="14.6" font-size="9" text-anchor="middle" fill="#303030">H1</text>
<text x="1047.7" y="14.6" font-size="9" text-anchor="middle" fill="#303030">H4</text>
<text x="1105.0" y="14.6" font-size="9" text-anchor="middle" fill="#303030">W1</text>
<text x="1132.0" y="14.6" font-size="9" text-anchor="middle" fill="#303030">MN</text>
<rect x="1064" y="0" width="26" height="21" fill="url(#chk)"/><rect x="1064" y="0" width="1" height="21" fill="#a0a0a0"/><rect x="1064" y="20" width="26" height="1" fill="#fff"/><rect x="1090" y="0" width="1" height="21" fill="#fff"/>
<text x="1076.4" y="14.6" font-size="9" text-anchor="middle" fill="#303030">D1</text>
<rect x="1147" y="0" width="1" height="22" fill="#a0a0a0"/>
<circle cx="1617.3" cy="8.6" r="3.6" fill="#f8f8ff" stroke="#2050c8" stroke-width="1.4"/><path d="M1614.6 11.5 L1610 16" stroke="#2858c8" stroke-width="2.2" stroke-linecap="round"/>
<path d="M1644.6 8.6 a6 5 0 1 1 7.6 4.8 l0.9 1.6 l-3 -1.2 a6 5 0 0 1 -5.5 -5.2z" fill="url(#gbub)" stroke="#909090" stroke-width="0.9"/>
<path d="M1636.3 12.4 a5 4 0 1 1 5.6 4 l-2.6 1.6 l0.4 -1.8 a5 4 0 0 1 -3.4 -3.8z" fill="url(#gbub)" stroke="#909090" stroke-width="0.9"/>
</g>
<defs><linearGradient id="gred" gradientUnits="userSpaceOnUse" x1="0" x2="0" y1="47" y2="111"><stop offset="0" stop-color="#fa5252"/><stop offset="0.35" stop-color="#e03030"/><stop offset="1" stop-color="#b00000"/></linearGradient>
<linearGradient id="gbtn" x1="0" x2="0" y1="0" y2="1"><stop offset="0" stop-color="#f4f4f4"/><stop offset="0.45" stop-color="#e4e4e4"/><stop offset="0.5" stop-color="#d4d4d4"/><stop offset="1" stop-color="#d0d0d0"/></linearGradient></defs>
<g id="trade">
<rect x="0" y="47" width="218" height="64" fill="#fff"/>
<path d="M0 47 H51 V71 H108 V111 H0Z" fill="url(#gred)"/>
<path d="M166 47 H218 V111 H110 V71 H166Z" fill="url(#gred)"/>
<rect x="0" y="47" width="51" height="1" fill="#c80000"/><rect x="166" y="47" width="52" height="1" fill="#c80000"/><rect x="50" y="47" width="1" height="25" fill="#c40000"/><rect x="166" y="47" width="1" height="25" fill="#c40000"/><rect x="51" y="71" width="57" height="1" fill="#c40000"/><rect x="110" y="71" width="56" height="1" fill="#c40000"/><rect x="217" y="47" width="1" height="64" fill="#c40000" opacity="0.6"/>
<rect x="3" y="70" width="44" height="1" fill="#900000"/><rect x="3" y="71" width="44" height="1" fill="#f06060"/>
<rect x="170" y="70" width="44" height="1" fill="#900000"/><rect x="170" y="71" width="44" height="1" fill="#f06060"/>
<text x="11.4" y="63" font-size="12" fill="#fff" textLength="25.3" lengthAdjust="spacingAndGlyphs">SELL</text>
<text x="179.6" y="63" font-size="12" fill="#fff" textLength="22.6" lengthAdjust="spacingAndGlyphs">BUY</text>
<rect x="53.5" y="47.5" width="110" height="21" fill="#fff" stroke="#a0a4b0" stroke-width="1"/>
<rect x="55" y="49" width="19" height="18" fill="url(#gbtn)"/><rect x="143" y="49" width="19" height="18" fill="url(#gbtn)"/>
<rect x="74" y="48" width="1" height="20" fill="#a0a4b0"/><rect x="142" y="48" width="1" height="20" fill="#a0a4b0"/>
<path d="M61 56.4 h5.8 l-2.9 3.3z" fill="#5464c8"/><path d="M149.6 59.5 h5.8 l-2.9 -3.3z" fill="#5464c8"/>
<text x="139" y="62" font-size="12" text-anchor="end" fill="#000">1.00</text>
<text x="15.2" y="101.6" font-size="12" font-weight="bold" fill="#fff" textLength="34.4" lengthAdjust="spacingAndGlyphs">26936</text>
<text x="53.4" y="101.7" font-size="24" font-weight="bold" fill="#fff">.</text>
<text x="61.2" y="102" font-size="35" fill="#fff" stroke="url(#gred)" stroke-width="0.6" textLength="16.4" lengthAdjust="spacingAndGlyphs">5</text>
<text x="125.4" y="101.6" font-size="12" font-weight="bold" fill="#fff" textLength="34.4" lengthAdjust="spacingAndGlyphs">26944</text>
<text x="164.8" y="101.7" font-size="24" font-weight="bold" fill="#fff">.</text>
<text x="171.4" y="102" font-size="35" fill="#fff" stroke="url(#gred)" stroke-width="0.6" textLength="16.4" lengthAdjust="spacingAndGlyphs">5</text>
</g>
</svg></body></html>
